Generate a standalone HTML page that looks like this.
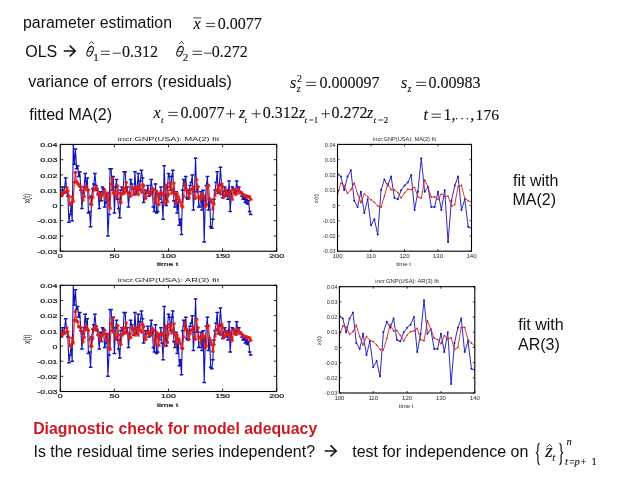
<!DOCTYPE html>
<html><head><meta charset="utf-8"><style>html,body{margin:0;padding:0;background:#fff;} svg{display:block;will-change:transform}</style></head>
<body><svg width="638" height="479" viewBox="0 0 638 479">
<rect width="638" height="479" fill="#fff"/>
<text x="23" y="27.6" font-family='"Liberation Sans", sans-serif' font-size="16"  font-weight="normal" fill="#111" textLength="149" lengthAdjust="spacingAndGlyphs">parameter estimation</text>
<text x="193.6" y="29" font-family='"Liberation Serif", serif' font-size="16" font-style="italic" font-weight="normal" fill="#111" stroke="#111" stroke-width="0.12">x</text>
<line x1="193.2" y1="17.9" x2="201.3" y2="17.9" stroke="#111" stroke-width="0.8"/>
<path d="M206 23.40 H215 M206 26.60 H215" stroke="#111" stroke-width="0.8"/>
<text x="217.8" y="29" font-family='"Liberation Serif", serif' font-size="16"  font-weight="normal" fill="#111" stroke="#111" stroke-width="0.12">0.0077</text>
<text x="25.2" y="57.2" font-family='"Liberation Sans", sans-serif' font-size="16"  font-weight="normal" fill="#111" >OLS</text>
<path d="M63.8 51 H74.6 M69.7 45.6 L75.2 51 L69.7 56.4" fill="none" stroke="#111" stroke-width="1.6"/>
<ellipse cx="90.10" cy="51.3" rx="2.55" ry="5.2" transform="rotate(24 90.10 51.3)" fill="none" stroke="#111" stroke-width="1.05"/>
<path d="M87.50 51.4 H92.70" stroke="#111" stroke-width="0.8"/>
<path d="M89.30000000000001 44 L91.60000000000001 41.4 L93.9 44" fill="none" stroke="#111" stroke-width="0.75"/>
<text x="93.2" y="60.6" font-family='"Liberation Serif", serif' font-size="11"  font-weight="normal" fill="#111" stroke="#111" stroke-width="0.12">1</text>
<path d="M100.9 51.20 H109.7 M100.9 54.40 H109.7" stroke="#111" stroke-width="0.8"/>
<path d="M112.8 53.2 H121" stroke="#111" stroke-width="0.8"/>
<text x="121.9" y="56.8" font-family='"Liberation Serif", serif' font-size="16"  font-weight="normal" fill="#111" stroke="#111" stroke-width="0.12">0.312</text>
<ellipse cx="180.00" cy="51.3" rx="2.55" ry="5.2" transform="rotate(24 180.00 51.3)" fill="none" stroke="#111" stroke-width="1.05"/>
<path d="M177.40 51.4 H182.60" stroke="#111" stroke-width="0.8"/>
<path d="M179.20000000000002 44 L181.5 41.4 L183.8 44" fill="none" stroke="#111" stroke-width="0.75"/>
<text x="182.8" y="60.6" font-family='"Liberation Serif", serif' font-size="11"  font-weight="normal" fill="#111" stroke="#111" stroke-width="0.12">2</text>
<path d="M192.5 51.20 H202 M192.5 54.40 H202" stroke="#111" stroke-width="0.8"/>
<path d="M204.2 53.2 H211.5" stroke="#111" stroke-width="0.8"/>
<text x="211.8" y="56.8" font-family='"Liberation Serif", serif' font-size="16"  font-weight="normal" fill="#111" stroke="#111" stroke-width="0.12">0.272</text>
<text x="28.3" y="86.6" font-family='"Liberation Sans", sans-serif' font-size="16"  font-weight="normal" fill="#111" >variance of errors (residuals)</text>
<text x="290" y="87.9" font-family='"Liberation Serif", serif' font-size="16" font-style="italic" font-weight="normal" fill="#111" stroke="#111" stroke-width="0.12">s</text>
<text x="297" y="81.8" font-family='"Liberation Serif", serif' font-size="10"  font-weight="normal" fill="#111" stroke="#111" stroke-width="0.12">2</text>
<text x="296.7" y="91.7" font-family='"Liberation Serif", serif' font-size="10" font-style="italic" font-weight="normal" fill="#111" stroke="#111" stroke-width="0.12">z</text>
<path d="M306.2 82.30 H316.2 M306.2 85.50 H316.2" stroke="#111" stroke-width="0.8"/>
<text x="319.6" y="87.9" font-family='"Liberation Serif", serif' font-size="16"  font-weight="normal" fill="#111" stroke="#111" stroke-width="0.12">0.000097</text>
<text x="401" y="87.9" font-family='"Liberation Serif", serif' font-size="16" font-style="italic" font-weight="normal" fill="#111" stroke="#111" stroke-width="0.12">s</text>
<text x="407.6" y="91.7" font-family='"Liberation Serif", serif' font-size="10" font-style="italic" font-weight="normal" fill="#111" stroke="#111" stroke-width="0.12">z</text>
<path d="M416.2 82.30 H426.2 M416.2 85.50 H426.2" stroke="#111" stroke-width="0.8"/>
<text x="428.4" y="87.9" font-family='"Liberation Serif", serif' font-size="16"  font-weight="normal" fill="#111" stroke="#111" stroke-width="0.12">0.00983</text>
<text x="29.3" y="119.6" font-family='"Liberation Sans", sans-serif' font-size="16"  font-weight="normal" fill="#111" >fitted MA(2)</text>
<text x="153.6" y="118.0" font-family='"Liberation Serif", serif' font-size="16" font-style="italic" font-weight="normal" fill="#111" stroke="#111" stroke-width="0.12">x</text>
<text x="161.0" y="122.5" font-family='"Liberation Serif", serif' font-size="8.8" font-style="italic" font-weight="normal" fill="#111" stroke="#111" stroke-width="0.12">t</text>
<path d="M168.3 112.40 H177.7 M168.3 115.60 H177.7" stroke="#111" stroke-width="0.8"/>
<text x="180.6" y="118.0" font-family='"Liberation Serif", serif' font-size="16"  font-weight="normal" fill="#111" stroke="#111" stroke-width="0.12">0.0077</text>
<path d="M226.1 113.8 H234.9 M230.50 109.5 V118.1" stroke="#111" stroke-width="0.8"/>
<text x="239.0" y="118.0" font-family='"Liberation Serif", serif' font-size="16" font-style="italic" font-weight="normal" fill="#111" stroke="#111" stroke-width="0.12">z</text>
<text x="244.6" y="122.5" font-family='"Liberation Serif", serif' font-size="8.8" font-style="italic" font-weight="normal" fill="#111" stroke="#111" stroke-width="0.12">t</text>
<path d="M251.7 113.8 H260.8 M256.25 109.5 V118.1" stroke="#111" stroke-width="0.8"/>
<text x="262.8" y="118.0" font-family='"Liberation Serif", serif' font-size="16"  font-weight="normal" fill="#111" stroke="#111" stroke-width="0.12">0.312</text>
<text x="299.0" y="118.0" font-family='"Liberation Serif", serif' font-size="16" font-style="italic" font-weight="normal" fill="#111" stroke="#111" stroke-width="0.12">z</text>
<text x="304.6" y="122.6" font-family='"Liberation Serif", serif' font-size="8.8" font-style="italic" font-weight="normal" fill="#111" stroke="#111" stroke-width="0.12">t</text>
<path d="M309.1 120 H313.4" stroke="#111" stroke-width="0.8"/>
<text x="313.7" y="122.6" font-family='"Liberation Serif", serif' font-size="8.8"  font-weight="normal" fill="#111" stroke="#111" stroke-width="0.12">1</text>
<path d="M321.3 113.8 H329.9 M325.60 109.5 V118.1" stroke="#111" stroke-width="0.8"/>
<text x="331.6" y="118.0" font-family='"Liberation Serif", serif' font-size="16"  font-weight="normal" fill="#111" stroke="#111" stroke-width="0.12">0.272</text>
<text x="367.0" y="118.0" font-family='"Liberation Serif", serif' font-size="16" font-style="italic" font-weight="normal" fill="#111" stroke="#111" stroke-width="0.12">z</text>
<text x="373.6" y="122.6" font-family='"Liberation Serif", serif' font-size="8.8" font-style="italic" font-weight="normal" fill="#111" stroke="#111" stroke-width="0.12">t</text>
<path d="M378.4 120 H383.2" stroke="#111" stroke-width="0.8"/>
<text x="383.8" y="122.6" font-family='"Liberation Serif", serif' font-size="8.8"  font-weight="normal" fill="#111" stroke="#111" stroke-width="0.12">2</text>
<text x="423.4" y="119.7" font-family='"Liberation Serif", serif' font-size="16" font-style="italic" font-weight="normal" fill="#111" stroke="#111" stroke-width="0.12">t</text>
<path d="M431.5 114.10 H441 M431.5 117.30 H441" stroke="#111" stroke-width="0.8"/>
<text x="443.4" y="119.7" font-family='"Liberation Serif", serif' font-size="16"  font-weight="normal" fill="#111" stroke="#111" stroke-width="0.12">1,</text>
<circle cx="456.6" cy="118.7" r="0.75" fill="#111"/>
<circle cx="462.2" cy="118.7" r="0.75" fill="#111"/>
<circle cx="467.4" cy="118.7" r="0.75" fill="#111"/>
<text x="470.2" y="119.7" font-family='"Liberation Serif", serif' font-size="16"  font-weight="normal" fill="#111" stroke="#111" stroke-width="0.12">,</text>
<text x="475.6" y="119.7" font-family='"Liberation Serif", serif' font-size="15.6"  font-weight="normal" fill="#111" stroke="#111" stroke-width="0.12">176</text>
<clipPath id="c1"><rect x="60.3" y="144.4" width="216.39999999999998" height="106.79999999999998"/></clipPath>
<g clip-path="url(#c1)">
<polyline points="61.38,196.27 62.46,187.12 63.55,193.22 64.63,187.12 65.71,177.97 66.79,191.70 67.87,196.27 68.96,222.21 70.04,214.58 71.12,205.43 72.20,220.69 73.28,144.40 74.37,164.23 75.45,148.98 76.53,168.81 77.61,165.76 78.69,176.44 79.78,171.86 80.86,190.17 81.94,208.48 83.02,193.22 84.10,187.12 85.19,173.39 86.27,187.12 87.35,177.97 88.43,213.06 89.51,211.53 90.60,226.79 91.68,196.27 92.76,188.65 93.84,184.07 94.92,173.39 96.01,185.59 97.09,190.17 98.17,194.75 99.25,208.48 100.33,191.70 101.42,200.85 102.50,187.12 103.58,188.65 104.66,206.95 105.74,202.38 106.83,193.22 107.91,235.94 108.99,214.58 110.07,168.81 111.15,168.81 112.24,190.17 113.32,176.44 114.40,213.06 115.48,187.12 116.56,179.49 117.65,199.33 118.73,208.48 119.81,217.63 120.89,190.17 121.97,187.12 123.06,193.22 124.14,171.86 125.22,171.86 126.30,191.70 127.38,187.12 128.47,206.95 129.55,193.22 130.63,179.49 131.71,184.07 132.79,188.65 133.88,194.75 134.96,171.86 136.04,193.22 137.12,187.12 138.20,173.39 139.29,190.17 140.37,181.02 141.45,170.34 142.53,177.97 143.61,202.38 144.70,197.80 145.78,190.17 146.86,193.22 147.94,185.59 149.02,196.27 150.11,191.70 151.19,179.49 152.27,188.65 153.35,206.95 154.43,211.53 155.52,184.07 156.60,213.06 157.68,211.53 158.76,193.22 159.84,199.33 160.93,187.12 162.01,202.38 163.09,219.16 164.17,165.76 165.25,194.75 166.34,205.43 167.42,187.12 168.50,173.39 169.58,176.44 170.66,190.17 171.75,176.44 172.83,170.34 173.91,200.85 174.99,206.95 176.07,191.70 177.16,213.06 178.24,199.33 179.32,225.26 180.40,219.16 181.48,234.42 182.57,190.17 183.65,179.49 184.73,185.59 185.81,176.44 186.89,197.80 187.98,199.33 189.06,190.17 190.14,185.59 191.22,182.54 192.30,174.91 193.39,210.01 194.47,191.70 195.55,158.13 196.63,191.70 197.71,187.12 198.80,206.95 199.88,206.95 200.96,191.70 202.04,210.01 203.12,190.17 204.21,242.05 205.29,200.85 206.37,185.59 207.45,176.44 208.53,210.01 209.62,199.33 210.70,226.79 211.78,228.31 212.86,219.16 213.94,199.33 215.03,190.17 216.11,182.54 217.19,171.86 218.27,193.22 219.35,185.59 220.44,167.29 221.52,184.07 222.60,197.80 223.68,191.70 224.76,187.12 225.85,196.27 226.93,190.17 228.01,199.33 229.09,181.02 230.17,211.53 231.26,196.27 232.34,187.12 233.42,188.65 234.50,193.22 235.58,191.70 236.67,181.02 237.75,190.17 238.83,187.12 239.91,191.70 240.99,193.22 242.08,196.27 243.16,199.33 244.24,197.80 245.32,202.38 246.40,199.33 247.49,203.90 248.57,200.85 249.65,211.53 250.73,214.58" fill="none" stroke="#1414b4" stroke-width="1.1" stroke-linejoin="round"/>
<path d="M59.58 196.27 h3.6 M60.66 187.12 h3.6 M61.75 193.22 h3.6 M62.83 187.12 h3.6 M63.91 177.97 h3.6 M64.99 191.70 h3.6 M66.07 196.27 h3.6 M67.16 222.21 h3.6 M68.24 214.58 h3.6 M69.32 205.43 h3.6 M70.40 220.69 h3.6 M71.48 144.40 h3.6 M72.57 164.23 h3.6 M73.65 148.98 h3.6 M74.73 168.81 h3.6 M75.81 165.76 h3.6 M76.89 176.44 h3.6 M77.98 171.86 h3.6 M79.06 190.17 h3.6 M80.14 208.48 h3.6 M81.22 193.22 h3.6 M82.30 187.12 h3.6 M83.39 173.39 h3.6 M84.47 187.12 h3.6 M85.55 177.97 h3.6 M86.63 213.06 h3.6 M87.71 211.53 h3.6 M88.80 226.79 h3.6 M89.88 196.27 h3.6 M90.96 188.65 h3.6 M92.04 184.07 h3.6 M93.12 173.39 h3.6 M94.21 185.59 h3.6 M95.29 190.17 h3.6 M96.37 194.75 h3.6 M97.45 208.48 h3.6 M98.53 191.70 h3.6 M99.62 200.85 h3.6 M100.70 187.12 h3.6 M101.78 188.65 h3.6 M102.86 206.95 h3.6 M103.94 202.38 h3.6 M105.03 193.22 h3.6 M106.11 235.94 h3.6 M107.19 214.58 h3.6 M108.27 168.81 h3.6 M109.35 168.81 h3.6 M110.44 190.17 h3.6 M111.52 176.44 h3.6 M112.60 213.06 h3.6 M113.68 187.12 h3.6 M114.76 179.49 h3.6 M115.85 199.33 h3.6 M116.93 208.48 h3.6 M118.01 217.63 h3.6 M119.09 190.17 h3.6 M120.17 187.12 h3.6 M121.26 193.22 h3.6 M122.34 171.86 h3.6 M123.42 171.86 h3.6 M124.50 191.70 h3.6 M125.58 187.12 h3.6 M126.67 206.95 h3.6 M127.75 193.22 h3.6 M128.83 179.49 h3.6 M129.91 184.07 h3.6 M130.99 188.65 h3.6 M132.08 194.75 h3.6 M133.16 171.86 h3.6 M134.24 193.22 h3.6 M135.32 187.12 h3.6 M136.40 173.39 h3.6 M137.49 190.17 h3.6 M138.57 181.02 h3.6 M139.65 170.34 h3.6 M140.73 177.97 h3.6 M141.81 202.38 h3.6 M142.90 197.80 h3.6 M143.98 190.17 h3.6 M145.06 193.22 h3.6 M146.14 185.59 h3.6 M147.22 196.27 h3.6 M148.31 191.70 h3.6 M149.39 179.49 h3.6 M150.47 188.65 h3.6 M151.55 206.95 h3.6 M152.63 211.53 h3.6 M153.72 184.07 h3.6 M154.80 213.06 h3.6 M155.88 211.53 h3.6 M156.96 193.22 h3.6 M158.04 199.33 h3.6 M159.13 187.12 h3.6 M160.21 202.38 h3.6 M161.29 219.16 h3.6 M162.37 165.76 h3.6 M163.45 194.75 h3.6 M164.54 205.43 h3.6 M165.62 187.12 h3.6 M166.70 173.39 h3.6 M167.78 176.44 h3.6 M168.86 190.17 h3.6 M169.95 176.44 h3.6 M171.03 170.34 h3.6 M172.11 200.85 h3.6 M173.19 206.95 h3.6 M174.27 191.70 h3.6 M175.36 213.06 h3.6 M176.44 199.33 h3.6 M177.52 225.26 h3.6 M178.60 219.16 h3.6 M179.68 234.42 h3.6 M180.77 190.17 h3.6 M181.85 179.49 h3.6 M182.93 185.59 h3.6 M184.01 176.44 h3.6 M185.09 197.80 h3.6 M186.18 199.33 h3.6 M187.26 190.17 h3.6 M188.34 185.59 h3.6 M189.42 182.54 h3.6 M190.50 174.91 h3.6 M191.59 210.01 h3.6 M192.67 191.70 h3.6 M193.75 158.13 h3.6 M194.83 191.70 h3.6 M195.91 187.12 h3.6 M197.00 206.95 h3.6 M198.08 206.95 h3.6 M199.16 191.70 h3.6 M200.24 210.01 h3.6 M201.32 190.17 h3.6 M202.41 242.05 h3.6 M203.49 200.85 h3.6 M204.57 185.59 h3.6 M205.65 176.44 h3.6 M206.73 210.01 h3.6 M207.82 199.33 h3.6 M208.90 226.79 h3.6 M209.98 228.31 h3.6 M211.06 219.16 h3.6 M212.14 199.33 h3.6 M213.23 190.17 h3.6 M214.31 182.54 h3.6 M215.39 171.86 h3.6 M216.47 193.22 h3.6 M217.55 185.59 h3.6 M218.64 167.29 h3.6 M219.72 184.07 h3.6 M220.80 197.80 h3.6 M221.88 191.70 h3.6 M222.96 187.12 h3.6 M224.05 196.27 h3.6 M225.13 190.17 h3.6 M226.21 199.33 h3.6 M227.29 181.02 h3.6 M228.37 211.53 h3.6 M229.46 196.27 h3.6 M230.54 187.12 h3.6 M231.62 188.65 h3.6 M232.70 193.22 h3.6 M233.78 191.70 h3.6 M234.87 181.02 h3.6 M235.95 190.17 h3.6 M237.03 187.12 h3.6 M238.11 191.70 h3.6 M239.19 193.22 h3.6 M240.28 196.27 h3.6 M241.36 199.33 h3.6 M242.44 197.80 h3.6 M243.52 202.38 h3.6 M244.60 199.33 h3.6 M245.69 203.90 h3.6 M246.77 200.85 h3.6 M247.85 211.53 h3.6 M248.93 214.58 h3.6" stroke="#1414b4" stroke-width="1.5"/>
<polyline points="61.38,193.68 62.46,194.49 63.55,192.09 64.63,192.03 65.71,192.46 66.79,187.82 67.87,190.95 68.96,196.40 70.04,203.18 71.12,204.26 72.20,197.15 73.28,201.34 74.37,182.32 75.45,172.55 76.53,181.41 77.61,183.34 78.69,184.77 79.78,186.30 80.86,186.91 81.94,190.77 83.02,200.09 84.10,196.35 85.19,188.93 86.27,186.32 87.35,189.70 88.43,190.24 89.51,197.61 90.60,204.23 91.68,204.51 92.76,197.25 93.84,188.76 94.92,189.88 96.01,187.26 97.09,188.68 98.17,193.69 99.25,194.42 100.33,198.36 101.42,195.43 102.50,193.56 103.58,193.15 104.66,190.52 105.74,197.58 106.83,199.65 107.91,192.98 108.99,205.34 110.07,208.25 111.15,183.89 112.24,178.25 113.32,193.30 114.40,191.66 115.48,195.77 116.56,196.80 117.65,185.93 118.73,193.15 119.81,202.11 120.89,202.69 121.97,194.00 123.06,188.13 124.14,193.40 125.22,188.35 126.30,182.68 127.38,192.01 128.47,194.61 129.55,196.20 130.63,196.11 131.71,187.69 132.79,188.03 133.88,192.89 134.96,194.43 136.04,187.15 137.12,189.44 138.20,194.61 139.29,186.43 140.37,189.08 141.45,192.18 142.53,184.67 143.61,185.65 144.70,197.08 145.78,198.46 146.86,191.29 147.94,192.03 149.02,192.20 150.11,193.20 151.19,194.32 152.27,188.64 153.35,189.65 154.43,199.08 155.52,202.27 156.60,191.39 157.68,195.49 158.76,204.58 159.84,194.50 160.93,192.10 162.01,193.44 163.09,195.12 164.17,203.61 165.25,188.41 166.34,185.36 167.42,201.67 168.50,194.60 169.58,183.11 170.66,185.83 171.75,193.22 172.83,189.63 173.91,183.10 174.99,193.97 176.07,202.56 177.16,193.82 178.24,196.73 179.32,199.72 180.40,202.36 181.48,205.87 182.57,207.16 183.65,196.15 184.73,183.86 185.81,189.69 186.89,190.02 187.98,192.50 189.06,197.93 190.14,193.12 191.22,189.22 192.30,189.55 193.39,187.30 194.47,196.78 195.55,198.27 196.63,179.77 197.71,186.48 198.80,197.12 199.88,196.92 200.96,199.49 202.04,193.98 203.12,196.56 204.21,196.05 205.29,206.29 206.37,204.49 207.45,186.30 208.53,185.46 209.62,198.66 210.70,200.57 211.78,202.04 212.86,209.01 213.94,203.99 215.03,194.99 216.11,190.91 217.19,189.76 218.27,185.82 219.35,191.12 220.44,193.97 221.52,183.85 222.60,186.49 223.68,197.27 224.76,195.02 225.85,189.70 226.93,193.58 228.01,194.40 229.09,194.29 230.17,190.88 231.26,196.51 232.34,199.22 233.42,189.84 234.50,190.02 235.58,194.36 236.67,193.72 237.75,188.99 238.83,190.59 239.91,192.92 240.99,192.36 242.08,193.62 243.16,194.74 244.24,195.83 245.32,195.54 246.40,196.35 247.49,196.47 248.57,196.81 249.65,196.96 250.73,199.33" fill="none" stroke="#e01c1c" stroke-width="1.1" stroke-linejoin="round"/>
<path d="M59.48 193.68 h3.8 M61.38 191.88 v3.6 M60.08 192.38 l2.6 2.6 M60.08 194.98 l2.6 -2.6 M60.56 194.49 h3.8 M62.46 192.69 v3.6 M61.16 193.19 l2.6 2.6 M61.16 195.79 l2.6 -2.6 M61.65 192.09 h3.8 M63.55 190.29 v3.6 M62.25 190.79 l2.6 2.6 M62.25 193.39 l2.6 -2.6 M62.73 192.03 h3.8 M64.63 190.23 v3.6 M63.33 190.73 l2.6 2.6 M63.33 193.33 l2.6 -2.6 M63.81 192.46 h3.8 M65.71 190.66 v3.6 M64.41 191.16 l2.6 2.6 M64.41 193.76 l2.6 -2.6 M64.89 187.82 h3.8 M66.79 186.02 v3.6 M65.49 186.52 l2.6 2.6 M65.49 189.12 l2.6 -2.6 M65.97 190.95 h3.8 M67.87 189.15 v3.6 M66.57 189.65 l2.6 2.6 M66.57 192.25 l2.6 -2.6 M67.06 196.40 h3.8 M68.96 194.60 v3.6 M67.66 195.10 l2.6 2.6 M67.66 197.70 l2.6 -2.6 M68.14 203.18 h3.8 M70.04 201.38 v3.6 M68.74 201.88 l2.6 2.6 M68.74 204.48 l2.6 -2.6 M69.22 204.26 h3.8 M71.12 202.46 v3.6 M69.82 202.96 l2.6 2.6 M69.82 205.56 l2.6 -2.6 M70.30 197.15 h3.8 M72.20 195.35 v3.6 M70.90 195.85 l2.6 2.6 M70.90 198.45 l2.6 -2.6 M71.38 201.34 h3.8 M73.28 199.54 v3.6 M71.98 200.04 l2.6 2.6 M71.98 202.64 l2.6 -2.6 M72.47 182.32 h3.8 M74.37 180.52 v3.6 M73.07 181.02 l2.6 2.6 M73.07 183.62 l2.6 -2.6 M73.55 172.55 h3.8 M75.45 170.75 v3.6 M74.15 171.25 l2.6 2.6 M74.15 173.85 l2.6 -2.6 M74.63 181.41 h3.8 M76.53 179.61 v3.6 M75.23 180.11 l2.6 2.6 M75.23 182.71 l2.6 -2.6 M75.71 183.34 h3.8 M77.61 181.54 v3.6 M76.31 182.04 l2.6 2.6 M76.31 184.64 l2.6 -2.6 M76.79 184.77 h3.8 M78.69 182.97 v3.6 M77.39 183.47 l2.6 2.6 M77.39 186.07 l2.6 -2.6 M77.88 186.30 h3.8 M79.78 184.50 v3.6 M78.48 185.00 l2.6 2.6 M78.48 187.60 l2.6 -2.6 M78.96 186.91 h3.8 M80.86 185.11 v3.6 M79.56 185.61 l2.6 2.6 M79.56 188.21 l2.6 -2.6 M80.04 190.77 h3.8 M81.94 188.97 v3.6 M80.64 189.47 l2.6 2.6 M80.64 192.07 l2.6 -2.6 M81.12 200.09 h3.8 M83.02 198.29 v3.6 M81.72 198.79 l2.6 2.6 M81.72 201.39 l2.6 -2.6 M82.20 196.35 h3.8 M84.10 194.55 v3.6 M82.80 195.05 l2.6 2.6 M82.80 197.65 l2.6 -2.6 M83.29 188.93 h3.8 M85.19 187.13 v3.6 M83.89 187.63 l2.6 2.6 M83.89 190.23 l2.6 -2.6 M84.37 186.32 h3.8 M86.27 184.52 v3.6 M84.97 185.02 l2.6 2.6 M84.97 187.62 l2.6 -2.6 M85.45 189.70 h3.8 M87.35 187.90 v3.6 M86.05 188.40 l2.6 2.6 M86.05 191.00 l2.6 -2.6 M86.53 190.24 h3.8 M88.43 188.44 v3.6 M87.13 188.94 l2.6 2.6 M87.13 191.54 l2.6 -2.6 M87.61 197.61 h3.8 M89.51 195.81 v3.6 M88.21 196.31 l2.6 2.6 M88.21 198.91 l2.6 -2.6 M88.70 204.23 h3.8 M90.60 202.43 v3.6 M89.30 202.93 l2.6 2.6 M89.30 205.53 l2.6 -2.6 M89.78 204.51 h3.8 M91.68 202.71 v3.6 M90.38 203.21 l2.6 2.6 M90.38 205.81 l2.6 -2.6 M90.86 197.25 h3.8 M92.76 195.45 v3.6 M91.46 195.95 l2.6 2.6 M91.46 198.55 l2.6 -2.6 M91.94 188.76 h3.8 M93.84 186.96 v3.6 M92.54 187.46 l2.6 2.6 M92.54 190.06 l2.6 -2.6 M93.02 189.88 h3.8 M94.92 188.08 v3.6 M93.62 188.58 l2.6 2.6 M93.62 191.18 l2.6 -2.6 M94.11 187.26 h3.8 M96.01 185.46 v3.6 M94.71 185.96 l2.6 2.6 M94.71 188.56 l2.6 -2.6 M95.19 188.68 h3.8 M97.09 186.88 v3.6 M95.79 187.38 l2.6 2.6 M95.79 189.98 l2.6 -2.6 M96.27 193.69 h3.8 M98.17 191.89 v3.6 M96.87 192.39 l2.6 2.6 M96.87 194.99 l2.6 -2.6 M97.35 194.42 h3.8 M99.25 192.62 v3.6 M97.95 193.12 l2.6 2.6 M97.95 195.72 l2.6 -2.6 M98.43 198.36 h3.8 M100.33 196.56 v3.6 M99.03 197.06 l2.6 2.6 M99.03 199.66 l2.6 -2.6 M99.52 195.43 h3.8 M101.42 193.63 v3.6 M100.12 194.13 l2.6 2.6 M100.12 196.73 l2.6 -2.6 M100.60 193.56 h3.8 M102.50 191.76 v3.6 M101.20 192.26 l2.6 2.6 M101.20 194.86 l2.6 -2.6 M101.68 193.15 h3.8 M103.58 191.35 v3.6 M102.28 191.85 l2.6 2.6 M102.28 194.45 l2.6 -2.6 M102.76 190.52 h3.8 M104.66 188.72 v3.6 M103.36 189.22 l2.6 2.6 M103.36 191.82 l2.6 -2.6 M103.84 197.58 h3.8 M105.74 195.78 v3.6 M104.44 196.28 l2.6 2.6 M104.44 198.88 l2.6 -2.6 M104.93 199.65 h3.8 M106.83 197.85 v3.6 M105.53 198.35 l2.6 2.6 M105.53 200.95 l2.6 -2.6 M106.01 192.98 h3.8 M107.91 191.18 v3.6 M106.61 191.68 l2.6 2.6 M106.61 194.28 l2.6 -2.6 M107.09 205.34 h3.8 M108.99 203.54 v3.6 M107.69 204.04 l2.6 2.6 M107.69 206.64 l2.6 -2.6 M108.17 208.25 h3.8 M110.07 206.45 v3.6 M108.77 206.95 l2.6 2.6 M108.77 209.55 l2.6 -2.6 M109.25 183.89 h3.8 M111.15 182.09 v3.6 M109.85 182.59 l2.6 2.6 M109.85 185.19 l2.6 -2.6 M110.34 178.25 h3.8 M112.24 176.45 v3.6 M110.94 176.95 l2.6 2.6 M110.94 179.55 l2.6 -2.6 M111.42 193.30 h3.8 M113.32 191.50 v3.6 M112.02 192.00 l2.6 2.6 M112.02 194.60 l2.6 -2.6 M112.50 191.66 h3.8 M114.40 189.86 v3.6 M113.10 190.36 l2.6 2.6 M113.10 192.96 l2.6 -2.6 M113.58 195.77 h3.8 M115.48 193.97 v3.6 M114.18 194.47 l2.6 2.6 M114.18 197.07 l2.6 -2.6 M114.66 196.80 h3.8 M116.56 195.00 v3.6 M115.26 195.50 l2.6 2.6 M115.26 198.10 l2.6 -2.6 M115.75 185.93 h3.8 M117.65 184.13 v3.6 M116.35 184.63 l2.6 2.6 M116.35 187.23 l2.6 -2.6 M116.83 193.15 h3.8 M118.73 191.35 v3.6 M117.43 191.85 l2.6 2.6 M117.43 194.45 l2.6 -2.6 M117.91 202.11 h3.8 M119.81 200.31 v3.6 M118.51 200.81 l2.6 2.6 M118.51 203.41 l2.6 -2.6 M118.99 202.69 h3.8 M120.89 200.89 v3.6 M119.59 201.39 l2.6 2.6 M119.59 203.99 l2.6 -2.6 M120.07 194.00 h3.8 M121.97 192.20 v3.6 M120.67 192.70 l2.6 2.6 M120.67 195.30 l2.6 -2.6 M121.16 188.13 h3.8 M123.06 186.33 v3.6 M121.76 186.83 l2.6 2.6 M121.76 189.43 l2.6 -2.6 M122.24 193.40 h3.8 M124.14 191.60 v3.6 M122.84 192.10 l2.6 2.6 M122.84 194.70 l2.6 -2.6 M123.32 188.35 h3.8 M125.22 186.55 v3.6 M123.92 187.05 l2.6 2.6 M123.92 189.65 l2.6 -2.6 M124.40 182.68 h3.8 M126.30 180.88 v3.6 M125.00 181.38 l2.6 2.6 M125.00 183.98 l2.6 -2.6 M125.48 192.01 h3.8 M127.38 190.21 v3.6 M126.08 190.71 l2.6 2.6 M126.08 193.31 l2.6 -2.6 M126.57 194.61 h3.8 M128.47 192.81 v3.6 M127.17 193.31 l2.6 2.6 M127.17 195.91 l2.6 -2.6 M127.65 196.20 h3.8 M129.55 194.40 v3.6 M128.25 194.90 l2.6 2.6 M128.25 197.50 l2.6 -2.6 M128.73 196.11 h3.8 M130.63 194.31 v3.6 M129.33 194.81 l2.6 2.6 M129.33 197.41 l2.6 -2.6 M129.81 187.69 h3.8 M131.71 185.89 v3.6 M130.41 186.39 l2.6 2.6 M130.41 188.99 l2.6 -2.6 M130.89 188.03 h3.8 M132.79 186.23 v3.6 M131.49 186.73 l2.6 2.6 M131.49 189.33 l2.6 -2.6 M131.98 192.89 h3.8 M133.88 191.09 v3.6 M132.58 191.59 l2.6 2.6 M132.58 194.19 l2.6 -2.6 M133.06 194.43 h3.8 M134.96 192.63 v3.6 M133.66 193.13 l2.6 2.6 M133.66 195.73 l2.6 -2.6 M134.14 187.15 h3.8 M136.04 185.35 v3.6 M134.74 185.85 l2.6 2.6 M134.74 188.45 l2.6 -2.6 M135.22 189.44 h3.8 M137.12 187.64 v3.6 M135.82 188.14 l2.6 2.6 M135.82 190.74 l2.6 -2.6 M136.30 194.61 h3.8 M138.20 192.81 v3.6 M136.90 193.31 l2.6 2.6 M136.90 195.91 l2.6 -2.6 M137.39 186.43 h3.8 M139.29 184.63 v3.6 M137.99 185.13 l2.6 2.6 M137.99 187.73 l2.6 -2.6 M138.47 189.08 h3.8 M140.37 187.28 v3.6 M139.07 187.78 l2.6 2.6 M139.07 190.38 l2.6 -2.6 M139.55 192.18 h3.8 M141.45 190.38 v3.6 M140.15 190.88 l2.6 2.6 M140.15 193.48 l2.6 -2.6 M140.63 184.67 h3.8 M142.53 182.87 v3.6 M141.23 183.37 l2.6 2.6 M141.23 185.97 l2.6 -2.6 M141.71 185.65 h3.8 M143.61 183.85 v3.6 M142.31 184.35 l2.6 2.6 M142.31 186.95 l2.6 -2.6 M142.80 197.08 h3.8 M144.70 195.28 v3.6 M143.40 195.78 l2.6 2.6 M143.40 198.38 l2.6 -2.6 M143.88 198.46 h3.8 M145.78 196.66 v3.6 M144.48 197.16 l2.6 2.6 M144.48 199.76 l2.6 -2.6 M144.96 191.29 h3.8 M146.86 189.49 v3.6 M145.56 189.99 l2.6 2.6 M145.56 192.59 l2.6 -2.6 M146.04 192.03 h3.8 M147.94 190.23 v3.6 M146.64 190.73 l2.6 2.6 M146.64 193.33 l2.6 -2.6 M147.12 192.20 h3.8 M149.02 190.40 v3.6 M147.72 190.90 l2.6 2.6 M147.72 193.50 l2.6 -2.6 M148.21 193.20 h3.8 M150.11 191.40 v3.6 M148.81 191.90 l2.6 2.6 M148.81 194.50 l2.6 -2.6 M149.29 194.32 h3.8 M151.19 192.52 v3.6 M149.89 193.02 l2.6 2.6 M149.89 195.62 l2.6 -2.6 M150.37 188.64 h3.8 M152.27 186.84 v3.6 M150.97 187.34 l2.6 2.6 M150.97 189.94 l2.6 -2.6 M151.45 189.65 h3.8 M153.35 187.85 v3.6 M152.05 188.35 l2.6 2.6 M152.05 190.95 l2.6 -2.6 M152.53 199.08 h3.8 M154.43 197.28 v3.6 M153.13 197.78 l2.6 2.6 M153.13 200.38 l2.6 -2.6 M153.62 202.27 h3.8 M155.52 200.47 v3.6 M154.22 200.97 l2.6 2.6 M154.22 203.57 l2.6 -2.6 M154.70 191.39 h3.8 M156.60 189.59 v3.6 M155.30 190.09 l2.6 2.6 M155.30 192.69 l2.6 -2.6 M155.78 195.49 h3.8 M157.68 193.69 v3.6 M156.38 194.19 l2.6 2.6 M156.38 196.79 l2.6 -2.6 M156.86 204.58 h3.8 M158.76 202.78 v3.6 M157.46 203.28 l2.6 2.6 M157.46 205.88 l2.6 -2.6 M157.94 194.50 h3.8 M159.84 192.70 v3.6 M158.54 193.20 l2.6 2.6 M158.54 195.80 l2.6 -2.6 M159.03 192.10 h3.8 M160.93 190.30 v3.6 M159.63 190.80 l2.6 2.6 M159.63 193.40 l2.6 -2.6 M160.11 193.44 h3.8 M162.01 191.64 v3.6 M160.71 192.14 l2.6 2.6 M160.71 194.74 l2.6 -2.6 M161.19 195.12 h3.8 M163.09 193.32 v3.6 M161.79 193.82 l2.6 2.6 M161.79 196.42 l2.6 -2.6 M162.27 203.61 h3.8 M164.17 201.81 v3.6 M162.87 202.31 l2.6 2.6 M162.87 204.91 l2.6 -2.6 M163.35 188.41 h3.8 M165.25 186.61 v3.6 M163.95 187.11 l2.6 2.6 M163.95 189.71 l2.6 -2.6 M164.44 185.36 h3.8 M166.34 183.56 v3.6 M165.04 184.06 l2.6 2.6 M165.04 186.66 l2.6 -2.6 M165.52 201.67 h3.8 M167.42 199.87 v3.6 M166.12 200.37 l2.6 2.6 M166.12 202.97 l2.6 -2.6 M166.60 194.60 h3.8 M168.50 192.80 v3.6 M167.20 193.30 l2.6 2.6 M167.20 195.90 l2.6 -2.6 M167.68 183.11 h3.8 M169.58 181.31 v3.6 M168.28 181.81 l2.6 2.6 M168.28 184.41 l2.6 -2.6 M168.76 185.83 h3.8 M170.66 184.03 v3.6 M169.36 184.53 l2.6 2.6 M169.36 187.13 l2.6 -2.6 M169.85 193.22 h3.8 M171.75 191.42 v3.6 M170.45 191.92 l2.6 2.6 M170.45 194.52 l2.6 -2.6 M170.93 189.63 h3.8 M172.83 187.83 v3.6 M171.53 188.33 l2.6 2.6 M171.53 190.93 l2.6 -2.6 M172.01 183.10 h3.8 M173.91 181.30 v3.6 M172.61 181.80 l2.6 2.6 M172.61 184.40 l2.6 -2.6 M173.09 193.97 h3.8 M174.99 192.17 v3.6 M173.69 192.67 l2.6 2.6 M173.69 195.27 l2.6 -2.6 M174.17 202.56 h3.8 M176.07 200.76 v3.6 M174.77 201.26 l2.6 2.6 M174.77 203.86 l2.6 -2.6 M175.26 193.82 h3.8 M177.16 192.02 v3.6 M175.86 192.52 l2.6 2.6 M175.86 195.12 l2.6 -2.6 M176.34 196.73 h3.8 M178.24 194.93 v3.6 M176.94 195.43 l2.6 2.6 M176.94 198.03 l2.6 -2.6 M177.42 199.72 h3.8 M179.32 197.92 v3.6 M178.02 198.42 l2.6 2.6 M178.02 201.02 l2.6 -2.6 M178.50 202.36 h3.8 M180.40 200.56 v3.6 M179.10 201.06 l2.6 2.6 M179.10 203.66 l2.6 -2.6 M179.58 205.87 h3.8 M181.48 204.07 v3.6 M180.18 204.57 l2.6 2.6 M180.18 207.17 l2.6 -2.6 M180.67 207.16 h3.8 M182.57 205.36 v3.6 M181.27 205.86 l2.6 2.6 M181.27 208.46 l2.6 -2.6 M181.75 196.15 h3.8 M183.65 194.35 v3.6 M182.35 194.85 l2.6 2.6 M182.35 197.45 l2.6 -2.6 M182.83 183.86 h3.8 M184.73 182.06 v3.6 M183.43 182.56 l2.6 2.6 M183.43 185.16 l2.6 -2.6 M183.91 189.69 h3.8 M185.81 187.89 v3.6 M184.51 188.39 l2.6 2.6 M184.51 190.99 l2.6 -2.6 M184.99 190.02 h3.8 M186.89 188.22 v3.6 M185.59 188.72 l2.6 2.6 M185.59 191.32 l2.6 -2.6 M186.08 192.50 h3.8 M187.98 190.70 v3.6 M186.68 191.20 l2.6 2.6 M186.68 193.80 l2.6 -2.6 M187.16 197.93 h3.8 M189.06 196.13 v3.6 M187.76 196.63 l2.6 2.6 M187.76 199.23 l2.6 -2.6 M188.24 193.12 h3.8 M190.14 191.32 v3.6 M188.84 191.82 l2.6 2.6 M188.84 194.42 l2.6 -2.6 M189.32 189.22 h3.8 M191.22 187.42 v3.6 M189.92 187.92 l2.6 2.6 M189.92 190.52 l2.6 -2.6 M190.40 189.55 h3.8 M192.30 187.75 v3.6 M191.00 188.25 l2.6 2.6 M191.00 190.85 l2.6 -2.6 M191.49 187.30 h3.8 M193.39 185.50 v3.6 M192.09 186.00 l2.6 2.6 M192.09 188.60 l2.6 -2.6 M192.57 196.78 h3.8 M194.47 194.98 v3.6 M193.17 195.48 l2.6 2.6 M193.17 198.08 l2.6 -2.6 M193.65 198.27 h3.8 M195.55 196.47 v3.6 M194.25 196.97 l2.6 2.6 M194.25 199.57 l2.6 -2.6 M194.73 179.77 h3.8 M196.63 177.97 v3.6 M195.33 178.47 l2.6 2.6 M195.33 181.07 l2.6 -2.6 M195.81 186.48 h3.8 M197.71 184.68 v3.6 M196.41 185.18 l2.6 2.6 M196.41 187.78 l2.6 -2.6 M196.90 197.12 h3.8 M198.80 195.32 v3.6 M197.50 195.82 l2.6 2.6 M197.50 198.42 l2.6 -2.6 M197.98 196.92 h3.8 M199.88 195.12 v3.6 M198.58 195.62 l2.6 2.6 M198.58 198.22 l2.6 -2.6 M199.06 199.49 h3.8 M200.96 197.69 v3.6 M199.66 198.19 l2.6 2.6 M199.66 200.79 l2.6 -2.6 M200.14 193.98 h3.8 M202.04 192.18 v3.6 M200.74 192.68 l2.6 2.6 M200.74 195.28 l2.6 -2.6 M201.22 196.56 h3.8 M203.12 194.76 v3.6 M201.82 195.26 l2.6 2.6 M201.82 197.86 l2.6 -2.6 M202.31 196.05 h3.8 M204.21 194.25 v3.6 M202.91 194.75 l2.6 2.6 M202.91 197.35 l2.6 -2.6 M203.39 206.29 h3.8 M205.29 204.49 v3.6 M203.99 204.99 l2.6 2.6 M203.99 207.59 l2.6 -2.6 M204.47 204.49 h3.8 M206.37 202.69 v3.6 M205.07 203.19 l2.6 2.6 M205.07 205.79 l2.6 -2.6 M205.55 186.30 h3.8 M207.45 184.50 v3.6 M206.15 185.00 l2.6 2.6 M206.15 187.60 l2.6 -2.6 M206.63 185.46 h3.8 M208.53 183.66 v3.6 M207.23 184.16 l2.6 2.6 M207.23 186.76 l2.6 -2.6 M207.72 198.66 h3.8 M209.62 196.86 v3.6 M208.32 197.36 l2.6 2.6 M208.32 199.96 l2.6 -2.6 M208.80 200.57 h3.8 M210.70 198.77 v3.6 M209.40 199.27 l2.6 2.6 M209.40 201.87 l2.6 -2.6 M209.88 202.04 h3.8 M211.78 200.24 v3.6 M210.48 200.74 l2.6 2.6 M210.48 203.34 l2.6 -2.6 M210.96 209.01 h3.8 M212.86 207.21 v3.6 M211.56 207.71 l2.6 2.6 M211.56 210.31 l2.6 -2.6 M212.04 203.99 h3.8 M213.94 202.19 v3.6 M212.64 202.69 l2.6 2.6 M212.64 205.29 l2.6 -2.6 M213.13 194.99 h3.8 M215.03 193.19 v3.6 M213.73 193.69 l2.6 2.6 M213.73 196.29 l2.6 -2.6 M214.21 190.91 h3.8 M216.11 189.11 v3.6 M214.81 189.61 l2.6 2.6 M214.81 192.21 l2.6 -2.6 M215.29 189.76 h3.8 M217.19 187.96 v3.6 M215.89 188.46 l2.6 2.6 M215.89 191.06 l2.6 -2.6 M216.37 185.82 h3.8 M218.27 184.02 v3.6 M216.97 184.52 l2.6 2.6 M216.97 187.12 l2.6 -2.6 M217.45 191.12 h3.8 M219.35 189.32 v3.6 M218.05 189.82 l2.6 2.6 M218.05 192.42 l2.6 -2.6 M218.54 193.97 h3.8 M220.44 192.17 v3.6 M219.14 192.67 l2.6 2.6 M219.14 195.27 l2.6 -2.6 M219.62 183.85 h3.8 M221.52 182.05 v3.6 M220.22 182.55 l2.6 2.6 M220.22 185.15 l2.6 -2.6 M220.70 186.49 h3.8 M222.60 184.69 v3.6 M221.30 185.19 l2.6 2.6 M221.30 187.79 l2.6 -2.6 M221.78 197.27 h3.8 M223.68 195.47 v3.6 M222.38 195.97 l2.6 2.6 M222.38 198.57 l2.6 -2.6 M222.86 195.02 h3.8 M224.76 193.22 v3.6 M223.46 193.72 l2.6 2.6 M223.46 196.32 l2.6 -2.6 M223.95 189.70 h3.8 M225.85 187.90 v3.6 M224.55 188.40 l2.6 2.6 M224.55 191.00 l2.6 -2.6 M225.03 193.58 h3.8 M226.93 191.78 v3.6 M225.63 192.28 l2.6 2.6 M225.63 194.88 l2.6 -2.6 M226.11 194.40 h3.8 M228.01 192.60 v3.6 M226.71 193.10 l2.6 2.6 M226.71 195.70 l2.6 -2.6 M227.19 194.29 h3.8 M229.09 192.49 v3.6 M227.79 192.99 l2.6 2.6 M227.79 195.59 l2.6 -2.6 M228.27 190.88 h3.8 M230.17 189.08 v3.6 M228.87 189.58 l2.6 2.6 M228.87 192.18 l2.6 -2.6 M229.36 196.51 h3.8 M231.26 194.71 v3.6 M229.96 195.21 l2.6 2.6 M229.96 197.81 l2.6 -2.6 M230.44 199.22 h3.8 M232.34 197.42 v3.6 M231.04 197.92 l2.6 2.6 M231.04 200.52 l2.6 -2.6 M231.52 189.84 h3.8 M233.42 188.04 v3.6 M232.12 188.54 l2.6 2.6 M232.12 191.14 l2.6 -2.6 M232.60 190.02 h3.8 M234.50 188.22 v3.6 M233.20 188.72 l2.6 2.6 M233.20 191.32 l2.6 -2.6 M233.68 194.36 h3.8 M235.58 192.56 v3.6 M234.28 193.06 l2.6 2.6 M234.28 195.66 l2.6 -2.6 M234.77 193.72 h3.8 M236.67 191.92 v3.6 M235.37 192.42 l2.6 2.6 M235.37 195.02 l2.6 -2.6 M235.85 188.99 h3.8 M237.75 187.19 v3.6 M236.45 187.69 l2.6 2.6 M236.45 190.29 l2.6 -2.6 M236.93 190.59 h3.8 M238.83 188.79 v3.6 M237.53 189.29 l2.6 2.6 M237.53 191.89 l2.6 -2.6 M238.01 192.92 h3.8 M239.91 191.12 v3.6 M238.61 191.62 l2.6 2.6 M238.61 194.22 l2.6 -2.6 M239.09 192.36 h3.8 M240.99 190.56 v3.6 M239.69 191.06 l2.6 2.6 M239.69 193.66 l2.6 -2.6 M240.18 193.62 h3.8 M242.08 191.82 v3.6 M240.78 192.32 l2.6 2.6 M240.78 194.92 l2.6 -2.6 M241.26 194.74 h3.8 M243.16 192.94 v3.6 M241.86 193.44 l2.6 2.6 M241.86 196.04 l2.6 -2.6 M242.34 195.83 h3.8 M244.24 194.03 v3.6 M242.94 194.53 l2.6 2.6 M242.94 197.13 l2.6 -2.6 M243.42 195.54 h3.8 M245.32 193.74 v3.6 M244.02 194.24 l2.6 2.6 M244.02 196.84 l2.6 -2.6 M244.50 196.35 h3.8 M246.40 194.55 v3.6 M245.10 195.05 l2.6 2.6 M245.10 197.65 l2.6 -2.6 M245.59 196.47 h3.8 M247.49 194.67 v3.6 M246.19 195.17 l2.6 2.6 M246.19 197.77 l2.6 -2.6 M246.67 196.81 h3.8 M248.57 195.01 v3.6 M247.27 195.51 l2.6 2.6 M247.27 198.11 l2.6 -2.6 M247.75 196.96 h3.8 M249.65 195.16 v3.6 M248.35 195.66 l2.6 2.6 M248.35 198.26 l2.6 -2.6 M248.83 199.33 h3.8 M250.73 197.53 v3.6 M249.43 198.03 l2.6 2.6 M249.43 200.63 l2.6 -2.6" stroke="#e01c1c" stroke-width="1.0"/>
</g>
<rect x="60.3" y="144.4" width="216.39999999999998" height="106.79999999999998" fill="none" stroke="#000" stroke-width="1.1"/>
<path d="M60.30 251.2 v-3 M60.30 144.4 v3 M114.40 251.2 v-3 M114.40 144.4 v3 M168.50 251.2 v-3 M168.50 144.4 v3 M222.60 251.2 v-3 M222.60 144.4 v3 M276.70 251.2 v-3 M276.70 144.4 v3 M60.3 144.40 h3 M276.7 144.40 h-3 M60.3 159.66 h3 M276.7 159.66 h-3 M60.3 174.91 h3 M276.7 174.91 h-3 M60.3 190.17 h3 M276.7 190.17 h-3 M60.3 205.43 h3 M276.7 205.43 h-3 M60.3 220.69 h3 M276.7 220.69 h-3 M60.3 235.94 h3 M276.7 235.94 h-3 M60.3 251.20 h3 M276.7 251.20 h-3" stroke="#000" stroke-width="0.8"/>
<text transform="translate(57.50,147.20) scale(1.48,1)" text-anchor="end" font-family='"Liberation Sans", sans-serif' font-size="6.0" font-weight="normal" fill="#222" stroke="#222" stroke-width="0.22">0.04</text>
<text transform="translate(57.50,162.46) scale(1.48,1)" text-anchor="end" font-family='"Liberation Sans", sans-serif' font-size="6.0" font-weight="normal" fill="#222" stroke="#222" stroke-width="0.22">0.03</text>
<text transform="translate(57.50,177.71) scale(1.48,1)" text-anchor="end" font-family='"Liberation Sans", sans-serif' font-size="6.0" font-weight="normal" fill="#222" stroke="#222" stroke-width="0.22">0.02</text>
<text transform="translate(57.50,192.97) scale(1.48,1)" text-anchor="end" font-family='"Liberation Sans", sans-serif' font-size="6.0" font-weight="normal" fill="#222" stroke="#222" stroke-width="0.22">0.01</text>
<text transform="translate(57.50,208.23) scale(1.48,1)" text-anchor="end" font-family='"Liberation Sans", sans-serif' font-size="6.0" font-weight="normal" fill="#222" stroke="#222" stroke-width="0.22">0</text>
<text transform="translate(57.50,223.49) scale(1.48,1)" text-anchor="end" font-family='"Liberation Sans", sans-serif' font-size="6.0" font-weight="normal" fill="#222" stroke="#222" stroke-width="0.22">-0.01</text>
<text transform="translate(57.50,238.74) scale(1.48,1)" text-anchor="end" font-family='"Liberation Sans", sans-serif' font-size="6.0" font-weight="normal" fill="#222" stroke="#222" stroke-width="0.22">-0.02</text>
<text transform="translate(57.50,254.00) scale(1.48,1)" text-anchor="end" font-family='"Liberation Sans", sans-serif' font-size="6.0" font-weight="normal" fill="#222" stroke="#222" stroke-width="0.22">-0.03</text>
<text transform="translate(60.30,258.10) scale(1.48,1)" text-anchor="middle" font-family='"Liberation Sans", sans-serif' font-size="6.0" font-weight="normal" fill="#222" stroke="#222" stroke-width="0.22">0</text>
<text transform="translate(114.40,258.10) scale(1.48,1)" text-anchor="middle" font-family='"Liberation Sans", sans-serif' font-size="6.0" font-weight="normal" fill="#222" stroke="#222" stroke-width="0.22">50</text>
<text transform="translate(168.50,258.10) scale(1.48,1)" text-anchor="middle" font-family='"Liberation Sans", sans-serif' font-size="6.0" font-weight="normal" fill="#222" stroke="#222" stroke-width="0.22">100</text>
<text transform="translate(222.60,258.10) scale(1.48,1)" text-anchor="middle" font-family='"Liberation Sans", sans-serif' font-size="6.0" font-weight="normal" fill="#222" stroke="#222" stroke-width="0.22">150</text>
<text transform="translate(276.70,258.10) scale(1.48,1)" text-anchor="middle" font-family='"Liberation Sans", sans-serif' font-size="6.0" font-weight="normal" fill="#222" stroke="#222" stroke-width="0.22">200</text>
<text transform="translate(167.50,266.40) scale(1.48,1)" text-anchor="middle" font-family='"Liberation Sans", sans-serif' font-size="6.0" font-weight="normal" fill="#222" stroke="#222" stroke-width="0.22">time t</text>
<text x="168.50" y="140.90" text-anchor="middle" textLength="101.5" lengthAdjust="spacingAndGlyphs" font-family='"Liberation Sans", sans-serif' font-size="6.0" font-weight="normal" fill="#222">incr.GNP(USA): MA(2) fit</text>
<text transform="translate(30.00,198.60) rotate(-90) scale(1.1,1.6280000000000001)" text-anchor="middle" font-family='"Liberation Sans", sans-serif' font-size="6.0" font-weight="normal" fill="#222">x(t)</text>
<clipPath id="c2"><rect x="337.5" y="144.4" width="134.0" height="106.79999999999998"/></clipPath>
<g clip-path="url(#c2)">
<polyline points="334.15,187.12 337.50,173.39 340.85,176.44 344.20,190.17 347.55,176.44 350.90,170.34 354.25,200.85 357.60,206.95 360.95,191.70 364.30,213.06 367.65,199.33 371.00,225.26 374.35,219.16 377.70,234.42 381.05,190.17 384.40,179.49 387.75,185.59 391.10,176.44 394.45,197.80 397.80,199.33 401.15,190.17 404.50,185.59 407.85,182.54 411.20,174.91 414.55,210.01 417.90,191.70 421.25,158.13 424.60,191.70 427.95,187.12 431.30,206.95 434.65,206.95 438.00,191.70 441.35,210.01 444.70,190.17 448.05,242.05 451.40,200.85 454.75,185.59 458.10,176.44 461.45,210.01 464.80,199.33 468.15,226.79 471.50,228.31 474.85,219.16" fill="none" stroke="#1414b4" stroke-width="0.9" stroke-linejoin="round"/>
<circle cx="334.15" cy="187.12" r="1.0" fill="#1414b4"/>
<circle cx="337.50" cy="173.39" r="1.0" fill="#1414b4"/>
<circle cx="340.85" cy="176.44" r="1.0" fill="#1414b4"/>
<circle cx="344.20" cy="190.17" r="1.0" fill="#1414b4"/>
<circle cx="347.55" cy="176.44" r="1.0" fill="#1414b4"/>
<circle cx="350.90" cy="170.34" r="1.0" fill="#1414b4"/>
<circle cx="354.25" cy="200.85" r="1.0" fill="#1414b4"/>
<circle cx="357.60" cy="206.95" r="1.0" fill="#1414b4"/>
<circle cx="360.95" cy="191.70" r="1.0" fill="#1414b4"/>
<circle cx="364.30" cy="213.06" r="1.0" fill="#1414b4"/>
<circle cx="367.65" cy="199.33" r="1.0" fill="#1414b4"/>
<circle cx="371.00" cy="225.26" r="1.0" fill="#1414b4"/>
<circle cx="374.35" cy="219.16" r="1.0" fill="#1414b4"/>
<circle cx="377.70" cy="234.42" r="1.0" fill="#1414b4"/>
<circle cx="381.05" cy="190.17" r="1.0" fill="#1414b4"/>
<circle cx="384.40" cy="179.49" r="1.0" fill="#1414b4"/>
<circle cx="387.75" cy="185.59" r="1.0" fill="#1414b4"/>
<circle cx="391.10" cy="176.44" r="1.0" fill="#1414b4"/>
<circle cx="394.45" cy="197.80" r="1.0" fill="#1414b4"/>
<circle cx="397.80" cy="199.33" r="1.0" fill="#1414b4"/>
<circle cx="401.15" cy="190.17" r="1.0" fill="#1414b4"/>
<circle cx="404.50" cy="185.59" r="1.0" fill="#1414b4"/>
<circle cx="407.85" cy="182.54" r="1.0" fill="#1414b4"/>
<circle cx="411.20" cy="174.91" r="1.0" fill="#1414b4"/>
<circle cx="414.55" cy="210.01" r="1.0" fill="#1414b4"/>
<circle cx="417.90" cy="191.70" r="1.0" fill="#1414b4"/>
<circle cx="421.25" cy="158.13" r="1.0" fill="#1414b4"/>
<circle cx="424.60" cy="191.70" r="1.0" fill="#1414b4"/>
<circle cx="427.95" cy="187.12" r="1.0" fill="#1414b4"/>
<circle cx="431.30" cy="206.95" r="1.0" fill="#1414b4"/>
<circle cx="434.65" cy="206.95" r="1.0" fill="#1414b4"/>
<circle cx="438.00" cy="191.70" r="1.0" fill="#1414b4"/>
<circle cx="441.35" cy="210.01" r="1.0" fill="#1414b4"/>
<circle cx="444.70" cy="190.17" r="1.0" fill="#1414b4"/>
<circle cx="448.05" cy="242.05" r="1.0" fill="#1414b4"/>
<circle cx="451.40" cy="200.85" r="1.0" fill="#1414b4"/>
<circle cx="454.75" cy="185.59" r="1.0" fill="#1414b4"/>
<circle cx="458.10" cy="176.44" r="1.0" fill="#1414b4"/>
<circle cx="461.45" cy="210.01" r="1.0" fill="#1414b4"/>
<circle cx="464.80" cy="199.33" r="1.0" fill="#1414b4"/>
<circle cx="468.15" cy="226.79" r="1.0" fill="#1414b4"/>
<circle cx="471.50" cy="228.31" r="1.0" fill="#1414b4"/>
<circle cx="474.85" cy="219.16" r="1.0" fill="#1414b4"/>
<polyline points="334.15,201.67 337.50,194.60 340.85,183.11 344.20,185.83 347.55,193.22 350.90,189.63 354.25,183.10 357.60,193.97 360.95,202.56 364.30,193.82 367.65,196.73 371.00,199.72 374.35,202.36 377.70,205.87 381.05,207.16 384.40,196.15 387.75,183.86 391.10,189.69 394.45,190.02 397.80,192.50 401.15,197.93 404.50,193.12 407.85,189.22 411.20,189.55 414.55,187.30 417.90,196.78 421.25,198.27 424.60,179.77 427.95,186.48 431.30,197.12 434.65,196.92 438.00,199.49 441.35,193.98 444.70,196.56 448.05,196.05 451.40,206.29 454.75,204.49 458.10,186.30 461.45,185.46 464.80,198.66 468.15,200.57 471.50,202.04 474.85,209.01" fill="none" stroke="#d02828" stroke-width="0.9" stroke-linejoin="round"/>
<circle cx="334.15" cy="201.67" r="0.85" fill="#d02828"/>
<circle cx="337.50" cy="194.60" r="0.85" fill="#d02828"/>
<circle cx="340.85" cy="183.11" r="0.85" fill="#d02828"/>
<circle cx="344.20" cy="185.83" r="0.85" fill="#d02828"/>
<circle cx="347.55" cy="193.22" r="0.85" fill="#d02828"/>
<circle cx="350.90" cy="189.63" r="0.85" fill="#d02828"/>
<circle cx="354.25" cy="183.10" r="0.85" fill="#d02828"/>
<circle cx="357.60" cy="193.97" r="0.85" fill="#d02828"/>
<circle cx="360.95" cy="202.56" r="0.85" fill="#d02828"/>
<circle cx="364.30" cy="193.82" r="0.85" fill="#d02828"/>
<circle cx="367.65" cy="196.73" r="0.85" fill="#d02828"/>
<circle cx="371.00" cy="199.72" r="0.85" fill="#d02828"/>
<circle cx="374.35" cy="202.36" r="0.85" fill="#d02828"/>
<circle cx="377.70" cy="205.87" r="0.85" fill="#d02828"/>
<circle cx="381.05" cy="207.16" r="0.85" fill="#d02828"/>
<circle cx="384.40" cy="196.15" r="0.85" fill="#d02828"/>
<circle cx="387.75" cy="183.86" r="0.85" fill="#d02828"/>
<circle cx="391.10" cy="189.69" r="0.85" fill="#d02828"/>
<circle cx="394.45" cy="190.02" r="0.85" fill="#d02828"/>
<circle cx="397.80" cy="192.50" r="0.85" fill="#d02828"/>
<circle cx="401.15" cy="197.93" r="0.85" fill="#d02828"/>
<circle cx="404.50" cy="193.12" r="0.85" fill="#d02828"/>
<circle cx="407.85" cy="189.22" r="0.85" fill="#d02828"/>
<circle cx="411.20" cy="189.55" r="0.85" fill="#d02828"/>
<circle cx="414.55" cy="187.30" r="0.85" fill="#d02828"/>
<circle cx="417.90" cy="196.78" r="0.85" fill="#d02828"/>
<circle cx="421.25" cy="198.27" r="0.85" fill="#d02828"/>
<circle cx="424.60" cy="179.77" r="0.85" fill="#d02828"/>
<circle cx="427.95" cy="186.48" r="0.85" fill="#d02828"/>
<circle cx="431.30" cy="197.12" r="0.85" fill="#d02828"/>
<circle cx="434.65" cy="196.92" r="0.85" fill="#d02828"/>
<circle cx="438.00" cy="199.49" r="0.85" fill="#d02828"/>
<circle cx="441.35" cy="193.98" r="0.85" fill="#d02828"/>
<circle cx="444.70" cy="196.56" r="0.85" fill="#d02828"/>
<circle cx="448.05" cy="196.05" r="0.85" fill="#d02828"/>
<circle cx="451.40" cy="206.29" r="0.85" fill="#d02828"/>
<circle cx="454.75" cy="204.49" r="0.85" fill="#d02828"/>
<circle cx="458.10" cy="186.30" r="0.85" fill="#d02828"/>
<circle cx="461.45" cy="185.46" r="0.85" fill="#d02828"/>
<circle cx="464.80" cy="198.66" r="0.85" fill="#d02828"/>
<circle cx="468.15" cy="200.57" r="0.85" fill="#d02828"/>
<circle cx="471.50" cy="202.04" r="0.85" fill="#d02828"/>
<circle cx="474.85" cy="209.01" r="0.85" fill="#d02828"/>
</g>
<rect x="337.5" y="144.4" width="134.0" height="106.79999999999998" fill="none" stroke="#000" stroke-width="1.1"/>
<path d="M337.50 251.2 v-2 M337.50 144.4 v2 M371.00 251.2 v-2 M371.00 144.4 v2 M404.50 251.2 v-2 M404.50 144.4 v2 M438.00 251.2 v-2 M438.00 144.4 v2 M471.50 251.2 v-2 M471.50 144.4 v2 M337.5 144.40 h2 M471.5 144.40 h-2 M337.5 159.66 h2 M471.5 159.66 h-2 M337.5 174.91 h2 M471.5 174.91 h-2 M337.5 190.17 h2 M471.5 190.17 h-2 M337.5 205.43 h2 M471.5 205.43 h-2 M337.5 220.69 h2 M471.5 220.69 h-2 M337.5 235.94 h2 M471.5 235.94 h-2 M337.5 251.20 h2 M471.5 251.20 h-2" stroke="#000" stroke-width="0.8"/>
<text transform="translate(335.60,146.60) scale(0.93,1)" text-anchor="end" font-family='"Liberation Sans", sans-serif' font-size="6.0" font-weight="normal" fill="#2a2a2a" stroke="#2a2a2a" stroke-width="0">0.04</text>
<text transform="translate(335.60,161.86) scale(0.93,1)" text-anchor="end" font-family='"Liberation Sans", sans-serif' font-size="6.0" font-weight="normal" fill="#2a2a2a" stroke="#2a2a2a" stroke-width="0">0.03</text>
<text transform="translate(335.60,177.11) scale(0.93,1)" text-anchor="end" font-family='"Liberation Sans", sans-serif' font-size="6.0" font-weight="normal" fill="#2a2a2a" stroke="#2a2a2a" stroke-width="0">0.02</text>
<text transform="translate(335.60,192.37) scale(0.93,1)" text-anchor="end" font-family='"Liberation Sans", sans-serif' font-size="6.0" font-weight="normal" fill="#2a2a2a" stroke="#2a2a2a" stroke-width="0">0.01</text>
<text transform="translate(335.60,207.63) scale(0.93,1)" text-anchor="end" font-family='"Liberation Sans", sans-serif' font-size="6.0" font-weight="normal" fill="#2a2a2a" stroke="#2a2a2a" stroke-width="0">0</text>
<text transform="translate(335.60,222.89) scale(0.93,1)" text-anchor="end" font-family='"Liberation Sans", sans-serif' font-size="6.0" font-weight="normal" fill="#2a2a2a" stroke="#2a2a2a" stroke-width="0">-0.01</text>
<text transform="translate(335.60,238.14) scale(0.93,1)" text-anchor="end" font-family='"Liberation Sans", sans-serif' font-size="6.0" font-weight="normal" fill="#2a2a2a" stroke="#2a2a2a" stroke-width="0">-0.02</text>
<text transform="translate(335.60,253.40) scale(0.93,1)" text-anchor="end" font-family='"Liberation Sans", sans-serif' font-size="6.0" font-weight="normal" fill="#2a2a2a" stroke="#2a2a2a" stroke-width="0">-0.03</text>
<text transform="translate(337.50,258.40) scale(1.0,1)" text-anchor="middle" font-family='"Liberation Sans", sans-serif' font-size="6.0" font-weight="normal" fill="#2a2a2a" stroke="#2a2a2a" stroke-width="0">100</text>
<text transform="translate(371.00,258.40) scale(1.0,1)" text-anchor="middle" font-family='"Liberation Sans", sans-serif' font-size="6.0" font-weight="normal" fill="#2a2a2a" stroke="#2a2a2a" stroke-width="0">110</text>
<text transform="translate(404.50,258.40) scale(1.0,1)" text-anchor="middle" font-family='"Liberation Sans", sans-serif' font-size="6.0" font-weight="normal" fill="#2a2a2a" stroke="#2a2a2a" stroke-width="0">120</text>
<text transform="translate(438.00,258.40) scale(1.0,1)" text-anchor="middle" font-family='"Liberation Sans", sans-serif' font-size="6.0" font-weight="normal" fill="#2a2a2a" stroke="#2a2a2a" stroke-width="0">130</text>
<text transform="translate(471.50,258.40) scale(1.0,1)" text-anchor="middle" font-family='"Liberation Sans", sans-serif' font-size="6.0" font-weight="normal" fill="#2a2a2a" stroke="#2a2a2a" stroke-width="0">140</text>
<text transform="translate(403.50,266.20) scale(1.0,1)" text-anchor="middle" font-family='"Liberation Sans", sans-serif' font-size="6.0" font-weight="normal" fill="#2a2a2a" stroke="#2a2a2a" stroke-width="0">time t</text>
<text x="404.50" y="140.90" text-anchor="middle" textLength="63" lengthAdjust="spacingAndGlyphs" font-family='"Liberation Sans", sans-serif' font-size="6.0" font-weight="normal" fill="#2a2a2a">incr.GNP(USA): MA(2) fit</text>
<text transform="translate(318.30,198.60) rotate(-90) scale(1.05,0.92)" text-anchor="middle" font-family='"Liberation Sans", sans-serif' font-size="6.0" font-weight="normal" fill="#2a2a2a">x(t)</text>
<clipPath id="c3"><rect x="60.3" y="285.3" width="216.39999999999998" height="106.19999999999999"/></clipPath>
<g clip-path="url(#c3)">
<polyline points="61.38,336.88 62.46,327.78 63.55,333.85 64.63,327.78 65.71,318.68 66.79,332.33 67.87,336.88 68.96,362.67 70.04,355.09 71.12,345.99 72.20,361.16 73.28,285.30 74.37,305.02 75.45,289.85 76.53,309.57 77.61,306.54 78.69,317.16 79.78,312.61 80.86,330.81 81.94,349.02 83.02,333.85 84.10,327.78 85.19,314.13 86.27,327.78 87.35,318.68 88.43,353.57 89.51,352.05 90.60,367.23 91.68,336.88 92.76,329.30 93.84,324.75 94.92,314.13 96.01,326.26 97.09,330.81 98.17,335.37 99.25,349.02 100.33,332.33 101.42,341.43 102.50,327.78 103.58,329.30 104.66,347.50 105.74,342.95 106.83,333.85 107.91,376.33 108.99,355.09 110.07,309.57 111.15,309.57 112.24,330.81 113.32,317.16 114.40,353.57 115.48,327.78 116.56,320.19 117.65,339.92 118.73,349.02 119.81,358.12 120.89,330.81 121.97,327.78 123.06,333.85 124.14,312.61 125.22,312.61 126.30,332.33 127.38,327.78 128.47,347.50 129.55,333.85 130.63,320.19 131.71,324.75 132.79,329.30 133.88,335.37 134.96,312.61 136.04,333.85 137.12,327.78 138.20,314.13 139.29,330.81 140.37,321.71 141.45,311.09 142.53,318.68 143.61,342.95 144.70,338.40 145.78,330.81 146.86,333.85 147.94,326.26 149.02,336.88 150.11,332.33 151.19,320.19 152.27,329.30 153.35,347.50 154.43,352.05 155.52,324.75 156.60,353.57 157.68,352.05 158.76,333.85 159.84,339.92 160.93,327.78 162.01,342.95 163.09,359.64 164.17,306.54 165.25,335.37 166.34,345.99 167.42,327.78 168.50,314.13 169.58,317.16 170.66,330.81 171.75,317.16 172.83,311.09 173.91,341.43 174.99,347.50 176.07,332.33 177.16,353.57 178.24,339.92 179.32,365.71 180.40,359.64 181.48,374.81 182.57,330.81 183.65,320.19 184.73,326.26 185.81,317.16 186.89,338.40 187.98,339.92 189.06,330.81 190.14,326.26 191.22,323.23 192.30,315.64 193.39,350.54 194.47,332.33 195.55,298.95 196.63,332.33 197.71,327.78 198.80,347.50 199.88,347.50 200.96,332.33 202.04,350.54 203.12,330.81 204.21,382.40 205.29,341.43 206.37,326.26 207.45,317.16 208.53,350.54 209.62,339.92 210.70,367.23 211.78,368.74 212.86,359.64 213.94,339.92 215.03,330.81 216.11,323.23 217.19,312.61 218.27,333.85 219.35,326.26 220.44,308.06 221.52,324.75 222.60,338.40 223.68,332.33 224.76,327.78 225.85,336.88 226.93,330.81 228.01,339.92 229.09,321.71 230.17,352.05 231.26,336.88 232.34,327.78 233.42,329.30 234.50,333.85 235.58,332.33 236.67,321.71 237.75,330.81 238.83,327.78 239.91,332.33 240.99,333.85 242.08,336.88 243.16,339.92 244.24,338.40 245.32,342.95 246.40,339.92 247.49,344.47 248.57,341.43 249.65,352.05 250.73,355.09" fill="none" stroke="#1414b4" stroke-width="1.1" stroke-linejoin="round"/>
<path d="M59.58 336.88 h3.6 M60.66 327.78 h3.6 M61.75 333.85 h3.6 M62.83 327.78 h3.6 M63.91 318.68 h3.6 M64.99 332.33 h3.6 M66.07 336.88 h3.6 M67.16 362.67 h3.6 M68.24 355.09 h3.6 M69.32 345.99 h3.6 M70.40 361.16 h3.6 M71.48 285.30 h3.6 M72.57 305.02 h3.6 M73.65 289.85 h3.6 M74.73 309.57 h3.6 M75.81 306.54 h3.6 M76.89 317.16 h3.6 M77.98 312.61 h3.6 M79.06 330.81 h3.6 M80.14 349.02 h3.6 M81.22 333.85 h3.6 M82.30 327.78 h3.6 M83.39 314.13 h3.6 M84.47 327.78 h3.6 M85.55 318.68 h3.6 M86.63 353.57 h3.6 M87.71 352.05 h3.6 M88.80 367.23 h3.6 M89.88 336.88 h3.6 M90.96 329.30 h3.6 M92.04 324.75 h3.6 M93.12 314.13 h3.6 M94.21 326.26 h3.6 M95.29 330.81 h3.6 M96.37 335.37 h3.6 M97.45 349.02 h3.6 M98.53 332.33 h3.6 M99.62 341.43 h3.6 M100.70 327.78 h3.6 M101.78 329.30 h3.6 M102.86 347.50 h3.6 M103.94 342.95 h3.6 M105.03 333.85 h3.6 M106.11 376.33 h3.6 M107.19 355.09 h3.6 M108.27 309.57 h3.6 M109.35 309.57 h3.6 M110.44 330.81 h3.6 M111.52 317.16 h3.6 M112.60 353.57 h3.6 M113.68 327.78 h3.6 M114.76 320.19 h3.6 M115.85 339.92 h3.6 M116.93 349.02 h3.6 M118.01 358.12 h3.6 M119.09 330.81 h3.6 M120.17 327.78 h3.6 M121.26 333.85 h3.6 M122.34 312.61 h3.6 M123.42 312.61 h3.6 M124.50 332.33 h3.6 M125.58 327.78 h3.6 M126.67 347.50 h3.6 M127.75 333.85 h3.6 M128.83 320.19 h3.6 M129.91 324.75 h3.6 M130.99 329.30 h3.6 M132.08 335.37 h3.6 M133.16 312.61 h3.6 M134.24 333.85 h3.6 M135.32 327.78 h3.6 M136.40 314.13 h3.6 M137.49 330.81 h3.6 M138.57 321.71 h3.6 M139.65 311.09 h3.6 M140.73 318.68 h3.6 M141.81 342.95 h3.6 M142.90 338.40 h3.6 M143.98 330.81 h3.6 M145.06 333.85 h3.6 M146.14 326.26 h3.6 M147.22 336.88 h3.6 M148.31 332.33 h3.6 M149.39 320.19 h3.6 M150.47 329.30 h3.6 M151.55 347.50 h3.6 M152.63 352.05 h3.6 M153.72 324.75 h3.6 M154.80 353.57 h3.6 M155.88 352.05 h3.6 M156.96 333.85 h3.6 M158.04 339.92 h3.6 M159.13 327.78 h3.6 M160.21 342.95 h3.6 M161.29 359.64 h3.6 M162.37 306.54 h3.6 M163.45 335.37 h3.6 M164.54 345.99 h3.6 M165.62 327.78 h3.6 M166.70 314.13 h3.6 M167.78 317.16 h3.6 M168.86 330.81 h3.6 M169.95 317.16 h3.6 M171.03 311.09 h3.6 M172.11 341.43 h3.6 M173.19 347.50 h3.6 M174.27 332.33 h3.6 M175.36 353.57 h3.6 M176.44 339.92 h3.6 M177.52 365.71 h3.6 M178.60 359.64 h3.6 M179.68 374.81 h3.6 M180.77 330.81 h3.6 M181.85 320.19 h3.6 M182.93 326.26 h3.6 M184.01 317.16 h3.6 M185.09 338.40 h3.6 M186.18 339.92 h3.6 M187.26 330.81 h3.6 M188.34 326.26 h3.6 M189.42 323.23 h3.6 M190.50 315.64 h3.6 M191.59 350.54 h3.6 M192.67 332.33 h3.6 M193.75 298.95 h3.6 M194.83 332.33 h3.6 M195.91 327.78 h3.6 M197.00 347.50 h3.6 M198.08 347.50 h3.6 M199.16 332.33 h3.6 M200.24 350.54 h3.6 M201.32 330.81 h3.6 M202.41 382.40 h3.6 M203.49 341.43 h3.6 M204.57 326.26 h3.6 M205.65 317.16 h3.6 M206.73 350.54 h3.6 M207.82 339.92 h3.6 M208.90 367.23 h3.6 M209.98 368.74 h3.6 M211.06 359.64 h3.6 M212.14 339.92 h3.6 M213.23 330.81 h3.6 M214.31 323.23 h3.6 M215.39 312.61 h3.6 M216.47 333.85 h3.6 M217.55 326.26 h3.6 M218.64 308.06 h3.6 M219.72 324.75 h3.6 M220.80 338.40 h3.6 M221.88 332.33 h3.6 M222.96 327.78 h3.6 M224.05 336.88 h3.6 M225.13 330.81 h3.6 M226.21 339.92 h3.6 M227.29 321.71 h3.6 M228.37 352.05 h3.6 M229.46 336.88 h3.6 M230.54 327.78 h3.6 M231.62 329.30 h3.6 M232.70 333.85 h3.6 M233.78 332.33 h3.6 M234.87 321.71 h3.6 M235.95 330.81 h3.6 M237.03 327.78 h3.6 M238.11 332.33 h3.6 M239.19 333.85 h3.6 M240.28 336.88 h3.6 M241.36 339.92 h3.6 M242.44 338.40 h3.6 M243.52 342.95 h3.6 M244.60 339.92 h3.6 M245.69 344.47 h3.6 M246.77 341.43 h3.6 M247.85 352.05 h3.6 M248.93 355.09 h3.6" stroke="#1414b4" stroke-width="1.5"/>
<polyline points="61.38,334.36 62.46,335.26 63.55,332.55 64.63,332.67 65.71,332.93 66.79,327.82 67.87,331.80 68.96,337.12 70.04,344.97 71.12,346.30 72.20,338.11 73.28,342.84 74.37,320.45 75.45,311.58 76.53,320.61 77.61,321.95 78.69,326.58 79.78,326.93 80.86,327.68 81.94,331.69 83.02,341.93 84.10,337.33 85.19,329.92 86.27,326.23 87.35,329.40 88.43,330.62 89.51,339.19 90.60,346.20 91.68,346.26 92.76,338.63 93.84,328.40 94.92,329.77 96.01,326.34 97.09,329.30 98.17,334.57 99.25,335.24 100.33,340.16 101.42,336.15 102.50,334.40 103.58,333.64 104.66,330.44 105.74,338.98 106.83,340.44 107.91,333.87 108.99,347.67 110.07,349.18 111.15,323.50 112.24,318.37 113.32,332.23 114.40,331.28 115.48,338.49 116.56,337.97 117.65,325.54 118.73,334.71 119.81,342.49 120.89,344.48 121.97,335.32 123.06,328.08 124.14,333.53 125.22,327.65 126.30,322.99 127.38,332.87 128.47,334.81 129.55,338.06 130.63,337.49 131.71,327.49 132.79,328.57 133.88,332.91 134.96,335.19 136.04,327.71 137.12,330.16 138.20,335.09 139.29,326.23 140.37,330.46 141.45,332.22 142.53,324.52 143.61,326.55 144.70,337.87 145.78,339.55 146.86,332.65 147.94,332.99 149.02,331.97 150.11,333.88 151.19,335.27 152.27,328.73 153.35,330.37 154.43,340.06 155.52,343.61 156.60,332.33 157.68,336.83 158.76,345.34 159.84,334.64 160.93,333.71 162.01,333.16 163.09,335.40 164.17,345.65 165.25,328.00 166.34,326.16 167.42,342.56 168.50,334.03 169.58,324.51 170.66,325.71 171.75,332.94 172.83,330.20 173.91,323.71 174.99,335.12 176.07,343.52 177.16,335.02 178.24,338.84 179.32,340.04 180.40,343.56 181.48,348.00 182.57,348.53 183.65,336.80 184.73,323.07 185.81,329.53 186.89,328.96 187.98,333.86 189.06,339.48 190.14,333.57 191.22,330.14 192.30,329.56 193.39,327.02 194.47,338.24 195.55,339.23 196.63,319.40 197.71,327.62 198.80,336.75 199.88,338.06 200.96,342.24 202.04,334.16 203.12,337.78 204.21,336.33 205.29,348.16 206.37,345.94 207.45,326.01 208.53,325.94 209.62,338.08 210.70,341.65 211.78,344.51 212.86,351.44 213.94,344.66 215.03,335.96 216.11,330.55 217.19,329.08 218.27,325.32 219.35,331.89 220.44,334.56 221.52,323.85 222.60,327.48 223.68,337.80 224.76,335.76 225.85,331.15 226.93,334.37 228.01,334.53 229.09,335.32 230.17,331.48 231.26,337.48 232.34,340.22 233.42,330.03 234.50,331.08 235.58,334.23 236.67,334.30 237.75,329.69 238.83,331.17 239.91,333.25 240.99,333.00 242.08,334.77 243.16,335.45 244.24,336.84 245.32,336.42 246.40,337.30 247.49,337.28 248.57,337.67 249.65,337.86 250.73,340.37" fill="none" stroke="#e01c1c" stroke-width="1.1" stroke-linejoin="round"/>
<path d="M59.48 334.36 h3.8 M61.38 332.56 v3.6 M60.08 333.06 l2.6 2.6 M60.08 335.66 l2.6 -2.6 M60.56 335.26 h3.8 M62.46 333.46 v3.6 M61.16 333.96 l2.6 2.6 M61.16 336.56 l2.6 -2.6 M61.65 332.55 h3.8 M63.55 330.75 v3.6 M62.25 331.25 l2.6 2.6 M62.25 333.85 l2.6 -2.6 M62.73 332.67 h3.8 M64.63 330.87 v3.6 M63.33 331.37 l2.6 2.6 M63.33 333.97 l2.6 -2.6 M63.81 332.93 h3.8 M65.71 331.13 v3.6 M64.41 331.63 l2.6 2.6 M64.41 334.23 l2.6 -2.6 M64.89 327.82 h3.8 M66.79 326.02 v3.6 M65.49 326.52 l2.6 2.6 M65.49 329.12 l2.6 -2.6 M65.97 331.80 h3.8 M67.87 330.00 v3.6 M66.57 330.50 l2.6 2.6 M66.57 333.10 l2.6 -2.6 M67.06 337.12 h3.8 M68.96 335.32 v3.6 M67.66 335.82 l2.6 2.6 M67.66 338.42 l2.6 -2.6 M68.14 344.97 h3.8 M70.04 343.17 v3.6 M68.74 343.67 l2.6 2.6 M68.74 346.27 l2.6 -2.6 M69.22 346.30 h3.8 M71.12 344.50 v3.6 M69.82 345.00 l2.6 2.6 M69.82 347.60 l2.6 -2.6 M70.30 338.11 h3.8 M72.20 336.31 v3.6 M70.90 336.81 l2.6 2.6 M70.90 339.41 l2.6 -2.6 M71.38 342.84 h3.8 M73.28 341.04 v3.6 M71.98 341.54 l2.6 2.6 M71.98 344.14 l2.6 -2.6 M72.47 320.45 h3.8 M74.37 318.65 v3.6 M73.07 319.15 l2.6 2.6 M73.07 321.75 l2.6 -2.6 M73.55 311.58 h3.8 M75.45 309.78 v3.6 M74.15 310.28 l2.6 2.6 M74.15 312.88 l2.6 -2.6 M74.63 320.61 h3.8 M76.53 318.81 v3.6 M75.23 319.31 l2.6 2.6 M75.23 321.91 l2.6 -2.6 M75.71 321.95 h3.8 M77.61 320.15 v3.6 M76.31 320.65 l2.6 2.6 M76.31 323.25 l2.6 -2.6 M76.79 326.58 h3.8 M78.69 324.78 v3.6 M77.39 325.28 l2.6 2.6 M77.39 327.88 l2.6 -2.6 M77.88 326.93 h3.8 M79.78 325.13 v3.6 M78.48 325.63 l2.6 2.6 M78.48 328.23 l2.6 -2.6 M78.96 327.68 h3.8 M80.86 325.88 v3.6 M79.56 326.38 l2.6 2.6 M79.56 328.98 l2.6 -2.6 M80.04 331.69 h3.8 M81.94 329.89 v3.6 M80.64 330.39 l2.6 2.6 M80.64 332.99 l2.6 -2.6 M81.12 341.93 h3.8 M83.02 340.13 v3.6 M81.72 340.63 l2.6 2.6 M81.72 343.23 l2.6 -2.6 M82.20 337.33 h3.8 M84.10 335.53 v3.6 M82.80 336.03 l2.6 2.6 M82.80 338.63 l2.6 -2.6 M83.29 329.92 h3.8 M85.19 328.12 v3.6 M83.89 328.62 l2.6 2.6 M83.89 331.22 l2.6 -2.6 M84.37 326.23 h3.8 M86.27 324.43 v3.6 M84.97 324.93 l2.6 2.6 M84.97 327.53 l2.6 -2.6 M85.45 329.40 h3.8 M87.35 327.60 v3.6 M86.05 328.10 l2.6 2.6 M86.05 330.70 l2.6 -2.6 M86.53 330.62 h3.8 M88.43 328.82 v3.6 M87.13 329.32 l2.6 2.6 M87.13 331.92 l2.6 -2.6 M87.61 339.19 h3.8 M89.51 337.39 v3.6 M88.21 337.89 l2.6 2.6 M88.21 340.49 l2.6 -2.6 M88.70 346.20 h3.8 M90.60 344.40 v3.6 M89.30 344.90 l2.6 2.6 M89.30 347.50 l2.6 -2.6 M89.78 346.26 h3.8 M91.68 344.46 v3.6 M90.38 344.96 l2.6 2.6 M90.38 347.56 l2.6 -2.6 M90.86 338.63 h3.8 M92.76 336.83 v3.6 M91.46 337.33 l2.6 2.6 M91.46 339.93 l2.6 -2.6 M91.94 328.40 h3.8 M93.84 326.60 v3.6 M92.54 327.10 l2.6 2.6 M92.54 329.70 l2.6 -2.6 M93.02 329.77 h3.8 M94.92 327.97 v3.6 M93.62 328.47 l2.6 2.6 M93.62 331.07 l2.6 -2.6 M94.11 326.34 h3.8 M96.01 324.54 v3.6 M94.71 325.04 l2.6 2.6 M94.71 327.64 l2.6 -2.6 M95.19 329.30 h3.8 M97.09 327.50 v3.6 M95.79 328.00 l2.6 2.6 M95.79 330.60 l2.6 -2.6 M96.27 334.57 h3.8 M98.17 332.77 v3.6 M96.87 333.27 l2.6 2.6 M96.87 335.87 l2.6 -2.6 M97.35 335.24 h3.8 M99.25 333.44 v3.6 M97.95 333.94 l2.6 2.6 M97.95 336.54 l2.6 -2.6 M98.43 340.16 h3.8 M100.33 338.36 v3.6 M99.03 338.86 l2.6 2.6 M99.03 341.46 l2.6 -2.6 M99.52 336.15 h3.8 M101.42 334.35 v3.6 M100.12 334.85 l2.6 2.6 M100.12 337.45 l2.6 -2.6 M100.60 334.40 h3.8 M102.50 332.60 v3.6 M101.20 333.10 l2.6 2.6 M101.20 335.70 l2.6 -2.6 M101.68 333.64 h3.8 M103.58 331.84 v3.6 M102.28 332.34 l2.6 2.6 M102.28 334.94 l2.6 -2.6 M102.76 330.44 h3.8 M104.66 328.63 v3.6 M103.36 329.13 l2.6 2.6 M103.36 331.74 l2.6 -2.6 M103.84 338.98 h3.8 M105.74 337.18 v3.6 M104.44 337.68 l2.6 2.6 M104.44 340.28 l2.6 -2.6 M104.93 340.44 h3.8 M106.83 338.64 v3.6 M105.53 339.14 l2.6 2.6 M105.53 341.74 l2.6 -2.6 M106.01 333.87 h3.8 M107.91 332.07 v3.6 M106.61 332.57 l2.6 2.6 M106.61 335.17 l2.6 -2.6 M107.09 347.67 h3.8 M108.99 345.87 v3.6 M107.69 346.37 l2.6 2.6 M107.69 348.97 l2.6 -2.6 M108.17 349.18 h3.8 M110.07 347.38 v3.6 M108.77 347.88 l2.6 2.6 M108.77 350.48 l2.6 -2.6 M109.25 323.50 h3.8 M111.15 321.70 v3.6 M109.85 322.20 l2.6 2.6 M109.85 324.80 l2.6 -2.6 M110.34 318.37 h3.8 M112.24 316.57 v3.6 M110.94 317.07 l2.6 2.6 M110.94 319.67 l2.6 -2.6 M111.42 332.23 h3.8 M113.32 330.43 v3.6 M112.02 330.93 l2.6 2.6 M112.02 333.53 l2.6 -2.6 M112.50 331.28 h3.8 M114.40 329.48 v3.6 M113.10 329.98 l2.6 2.6 M113.10 332.58 l2.6 -2.6 M113.58 338.49 h3.8 M115.48 336.69 v3.6 M114.18 337.19 l2.6 2.6 M114.18 339.79 l2.6 -2.6 M114.66 337.97 h3.8 M116.56 336.17 v3.6 M115.26 336.67 l2.6 2.6 M115.26 339.27 l2.6 -2.6 M115.75 325.54 h3.8 M117.65 323.74 v3.6 M116.35 324.24 l2.6 2.6 M116.35 326.84 l2.6 -2.6 M116.83 334.71 h3.8 M118.73 332.91 v3.6 M117.43 333.41 l2.6 2.6 M117.43 336.01 l2.6 -2.6 M117.91 342.49 h3.8 M119.81 340.69 v3.6 M118.51 341.19 l2.6 2.6 M118.51 343.79 l2.6 -2.6 M118.99 344.48 h3.8 M120.89 342.68 v3.6 M119.59 343.18 l2.6 2.6 M119.59 345.78 l2.6 -2.6 M120.07 335.32 h3.8 M121.97 333.52 v3.6 M120.67 334.02 l2.6 2.6 M120.67 336.62 l2.6 -2.6 M121.16 328.08 h3.8 M123.06 326.28 v3.6 M121.76 326.78 l2.6 2.6 M121.76 329.38 l2.6 -2.6 M122.24 333.53 h3.8 M124.14 331.73 v3.6 M122.84 332.23 l2.6 2.6 M122.84 334.83 l2.6 -2.6 M123.32 327.65 h3.8 M125.22 325.85 v3.6 M123.92 326.35 l2.6 2.6 M123.92 328.95 l2.6 -2.6 M124.40 322.99 h3.8 M126.30 321.19 v3.6 M125.00 321.69 l2.6 2.6 M125.00 324.29 l2.6 -2.6 M125.48 332.87 h3.8 M127.38 331.07 v3.6 M126.08 331.57 l2.6 2.6 M126.08 334.17 l2.6 -2.6 M126.57 334.81 h3.8 M128.47 333.01 v3.6 M127.17 333.51 l2.6 2.6 M127.17 336.11 l2.6 -2.6 M127.65 338.06 h3.8 M129.55 336.26 v3.6 M128.25 336.76 l2.6 2.6 M128.25 339.36 l2.6 -2.6 M128.73 337.49 h3.8 M130.63 335.69 v3.6 M129.33 336.19 l2.6 2.6 M129.33 338.79 l2.6 -2.6 M129.81 327.49 h3.8 M131.71 325.69 v3.6 M130.41 326.19 l2.6 2.6 M130.41 328.79 l2.6 -2.6 M130.89 328.57 h3.8 M132.79 326.77 v3.6 M131.49 327.27 l2.6 2.6 M131.49 329.87 l2.6 -2.6 M131.98 332.91 h3.8 M133.88 331.11 v3.6 M132.58 331.61 l2.6 2.6 M132.58 334.21 l2.6 -2.6 M133.06 335.19 h3.8 M134.96 333.39 v3.6 M133.66 333.89 l2.6 2.6 M133.66 336.49 l2.6 -2.6 M134.14 327.71 h3.8 M136.04 325.91 v3.6 M134.74 326.41 l2.6 2.6 M134.74 329.01 l2.6 -2.6 M135.22 330.16 h3.8 M137.12 328.36 v3.6 M135.82 328.86 l2.6 2.6 M135.82 331.46 l2.6 -2.6 M136.30 335.09 h3.8 M138.20 333.29 v3.6 M136.90 333.79 l2.6 2.6 M136.90 336.39 l2.6 -2.6 M137.39 326.23 h3.8 M139.29 324.43 v3.6 M137.99 324.93 l2.6 2.6 M137.99 327.53 l2.6 -2.6 M138.47 330.46 h3.8 M140.37 328.66 v3.6 M139.07 329.16 l2.6 2.6 M139.07 331.76 l2.6 -2.6 M139.55 332.22 h3.8 M141.45 330.42 v3.6 M140.15 330.92 l2.6 2.6 M140.15 333.52 l2.6 -2.6 M140.63 324.52 h3.8 M142.53 322.72 v3.6 M141.23 323.22 l2.6 2.6 M141.23 325.82 l2.6 -2.6 M141.71 326.55 h3.8 M143.61 324.75 v3.6 M142.31 325.25 l2.6 2.6 M142.31 327.85 l2.6 -2.6 M142.80 337.87 h3.8 M144.70 336.07 v3.6 M143.40 336.57 l2.6 2.6 M143.40 339.17 l2.6 -2.6 M143.88 339.55 h3.8 M145.78 337.75 v3.6 M144.48 338.25 l2.6 2.6 M144.48 340.85 l2.6 -2.6 M144.96 332.65 h3.8 M146.86 330.85 v3.6 M145.56 331.35 l2.6 2.6 M145.56 333.95 l2.6 -2.6 M146.04 332.99 h3.8 M147.94 331.19 v3.6 M146.64 331.69 l2.6 2.6 M146.64 334.29 l2.6 -2.6 M147.12 331.97 h3.8 M149.02 330.17 v3.6 M147.72 330.67 l2.6 2.6 M147.72 333.27 l2.6 -2.6 M148.21 333.88 h3.8 M150.11 332.08 v3.6 M148.81 332.58 l2.6 2.6 M148.81 335.18 l2.6 -2.6 M149.29 335.27 h3.8 M151.19 333.47 v3.6 M149.89 333.97 l2.6 2.6 M149.89 336.57 l2.6 -2.6 M150.37 328.73 h3.8 M152.27 326.93 v3.6 M150.97 327.43 l2.6 2.6 M150.97 330.03 l2.6 -2.6 M151.45 330.37 h3.8 M153.35 328.57 v3.6 M152.05 329.07 l2.6 2.6 M152.05 331.67 l2.6 -2.6 M152.53 340.06 h3.8 M154.43 338.26 v3.6 M153.13 338.76 l2.6 2.6 M153.13 341.36 l2.6 -2.6 M153.62 343.61 h3.8 M155.52 341.81 v3.6 M154.22 342.31 l2.6 2.6 M154.22 344.91 l2.6 -2.6 M154.70 332.33 h3.8 M156.60 330.53 v3.6 M155.30 331.03 l2.6 2.6 M155.30 333.63 l2.6 -2.6 M155.78 336.83 h3.8 M157.68 335.03 v3.6 M156.38 335.53 l2.6 2.6 M156.38 338.13 l2.6 -2.6 M156.86 345.34 h3.8 M158.76 343.54 v3.6 M157.46 344.04 l2.6 2.6 M157.46 346.64 l2.6 -2.6 M157.94 334.64 h3.8 M159.84 332.84 v3.6 M158.54 333.34 l2.6 2.6 M158.54 335.94 l2.6 -2.6 M159.03 333.71 h3.8 M160.93 331.91 v3.6 M159.63 332.41 l2.6 2.6 M159.63 335.01 l2.6 -2.6 M160.11 333.16 h3.8 M162.01 331.36 v3.6 M160.71 331.86 l2.6 2.6 M160.71 334.46 l2.6 -2.6 M161.19 335.40 h3.8 M163.09 333.60 v3.6 M161.79 334.10 l2.6 2.6 M161.79 336.70 l2.6 -2.6 M162.27 345.65 h3.8 M164.17 343.85 v3.6 M162.87 344.35 l2.6 2.6 M162.87 346.95 l2.6 -2.6 M163.35 328.00 h3.8 M165.25 326.20 v3.6 M163.95 326.70 l2.6 2.6 M163.95 329.30 l2.6 -2.6 M164.44 326.16 h3.8 M166.34 324.36 v3.6 M165.04 324.86 l2.6 2.6 M165.04 327.46 l2.6 -2.6 M165.52 342.56 h3.8 M167.42 340.76 v3.6 M166.12 341.26 l2.6 2.6 M166.12 343.86 l2.6 -2.6 M166.60 334.03 h3.8 M168.50 332.23 v3.6 M167.20 332.73 l2.6 2.6 M167.20 335.33 l2.6 -2.6 M167.68 324.51 h3.8 M169.58 322.71 v3.6 M168.28 323.21 l2.6 2.6 M168.28 325.81 l2.6 -2.6 M168.76 325.71 h3.8 M170.66 323.91 v3.6 M169.36 324.41 l2.6 2.6 M169.36 327.01 l2.6 -2.6 M169.85 332.94 h3.8 M171.75 331.14 v3.6 M170.45 331.64 l2.6 2.6 M170.45 334.24 l2.6 -2.6 M170.93 330.20 h3.8 M172.83 328.40 v3.6 M171.53 328.90 l2.6 2.6 M171.53 331.50 l2.6 -2.6 M172.01 323.71 h3.8 M173.91 321.91 v3.6 M172.61 322.41 l2.6 2.6 M172.61 325.01 l2.6 -2.6 M173.09 335.12 h3.8 M174.99 333.32 v3.6 M173.69 333.82 l2.6 2.6 M173.69 336.42 l2.6 -2.6 M174.17 343.52 h3.8 M176.07 341.72 v3.6 M174.77 342.22 l2.6 2.6 M174.77 344.82 l2.6 -2.6 M175.26 335.02 h3.8 M177.16 333.22 v3.6 M175.86 333.72 l2.6 2.6 M175.86 336.32 l2.6 -2.6 M176.34 338.84 h3.8 M178.24 337.04 v3.6 M176.94 337.54 l2.6 2.6 M176.94 340.14 l2.6 -2.6 M177.42 340.04 h3.8 M179.32 338.24 v3.6 M178.02 338.74 l2.6 2.6 M178.02 341.34 l2.6 -2.6 M178.50 343.56 h3.8 M180.40 341.76 v3.6 M179.10 342.26 l2.6 2.6 M179.10 344.86 l2.6 -2.6 M179.58 348.00 h3.8 M181.48 346.20 v3.6 M180.18 346.70 l2.6 2.6 M180.18 349.30 l2.6 -2.6 M180.67 348.53 h3.8 M182.57 346.73 v3.6 M181.27 347.23 l2.6 2.6 M181.27 349.83 l2.6 -2.6 M181.75 336.80 h3.8 M183.65 335.00 v3.6 M182.35 335.50 l2.6 2.6 M182.35 338.10 l2.6 -2.6 M182.83 323.07 h3.8 M184.73 321.27 v3.6 M183.43 321.77 l2.6 2.6 M183.43 324.37 l2.6 -2.6 M183.91 329.53 h3.8 M185.81 327.73 v3.6 M184.51 328.23 l2.6 2.6 M184.51 330.83 l2.6 -2.6 M184.99 328.96 h3.8 M186.89 327.16 v3.6 M185.59 327.66 l2.6 2.6 M185.59 330.26 l2.6 -2.6 M186.08 333.86 h3.8 M187.98 332.06 v3.6 M186.68 332.56 l2.6 2.6 M186.68 335.16 l2.6 -2.6 M187.16 339.48 h3.8 M189.06 337.68 v3.6 M187.76 338.18 l2.6 2.6 M187.76 340.78 l2.6 -2.6 M188.24 333.57 h3.8 M190.14 331.77 v3.6 M188.84 332.27 l2.6 2.6 M188.84 334.87 l2.6 -2.6 M189.32 330.14 h3.8 M191.22 328.34 v3.6 M189.92 328.84 l2.6 2.6 M189.92 331.44 l2.6 -2.6 M190.40 329.56 h3.8 M192.30 327.76 v3.6 M191.00 328.26 l2.6 2.6 M191.00 330.86 l2.6 -2.6 M191.49 327.02 h3.8 M193.39 325.22 v3.6 M192.09 325.72 l2.6 2.6 M192.09 328.32 l2.6 -2.6 M192.57 338.24 h3.8 M194.47 336.44 v3.6 M193.17 336.94 l2.6 2.6 M193.17 339.54 l2.6 -2.6 M193.65 339.23 h3.8 M195.55 337.43 v3.6 M194.25 337.93 l2.6 2.6 M194.25 340.53 l2.6 -2.6 M194.73 319.40 h3.8 M196.63 317.60 v3.6 M195.33 318.10 l2.6 2.6 M195.33 320.70 l2.6 -2.6 M195.81 327.62 h3.8 M197.71 325.82 v3.6 M196.41 326.32 l2.6 2.6 M196.41 328.92 l2.6 -2.6 M196.90 336.75 h3.8 M198.80 334.95 v3.6 M197.50 335.45 l2.6 2.6 M197.50 338.05 l2.6 -2.6 M197.98 338.06 h3.8 M199.88 336.26 v3.6 M198.58 336.76 l2.6 2.6 M198.58 339.36 l2.6 -2.6 M199.06 342.24 h3.8 M200.96 340.44 v3.6 M199.66 340.94 l2.6 2.6 M199.66 343.54 l2.6 -2.6 M200.14 334.16 h3.8 M202.04 332.36 v3.6 M200.74 332.86 l2.6 2.6 M200.74 335.46 l2.6 -2.6 M201.22 337.78 h3.8 M203.12 335.98 v3.6 M201.82 336.48 l2.6 2.6 M201.82 339.08 l2.6 -2.6 M202.31 336.33 h3.8 M204.21 334.53 v3.6 M202.91 335.03 l2.6 2.6 M202.91 337.63 l2.6 -2.6 M203.39 348.16 h3.8 M205.29 346.36 v3.6 M203.99 346.86 l2.6 2.6 M203.99 349.46 l2.6 -2.6 M204.47 345.94 h3.8 M206.37 344.14 v3.6 M205.07 344.64 l2.6 2.6 M205.07 347.24 l2.6 -2.6 M205.55 326.01 h3.8 M207.45 324.21 v3.6 M206.15 324.71 l2.6 2.6 M206.15 327.31 l2.6 -2.6 M206.63 325.94 h3.8 M208.53 324.14 v3.6 M207.23 324.64 l2.6 2.6 M207.23 327.24 l2.6 -2.6 M207.72 338.08 h3.8 M209.62 336.28 v3.6 M208.32 336.78 l2.6 2.6 M208.32 339.38 l2.6 -2.6 M208.80 341.65 h3.8 M210.70 339.85 v3.6 M209.40 340.35 l2.6 2.6 M209.40 342.95 l2.6 -2.6 M209.88 344.51 h3.8 M211.78 342.71 v3.6 M210.48 343.21 l2.6 2.6 M210.48 345.81 l2.6 -2.6 M210.96 351.44 h3.8 M212.86 349.64 v3.6 M211.56 350.14 l2.6 2.6 M211.56 352.74 l2.6 -2.6 M212.04 344.66 h3.8 M213.94 342.86 v3.6 M212.64 343.36 l2.6 2.6 M212.64 345.96 l2.6 -2.6 M213.13 335.96 h3.8 M215.03 334.16 v3.6 M213.73 334.66 l2.6 2.6 M213.73 337.26 l2.6 -2.6 M214.21 330.55 h3.8 M216.11 328.75 v3.6 M214.81 329.25 l2.6 2.6 M214.81 331.85 l2.6 -2.6 M215.29 329.08 h3.8 M217.19 327.28 v3.6 M215.89 327.78 l2.6 2.6 M215.89 330.38 l2.6 -2.6 M216.37 325.32 h3.8 M218.27 323.52 v3.6 M216.97 324.02 l2.6 2.6 M216.97 326.62 l2.6 -2.6 M217.45 331.89 h3.8 M219.35 330.09 v3.6 M218.05 330.59 l2.6 2.6 M218.05 333.19 l2.6 -2.6 M218.54 334.56 h3.8 M220.44 332.76 v3.6 M219.14 333.26 l2.6 2.6 M219.14 335.86 l2.6 -2.6 M219.62 323.85 h3.8 M221.52 322.05 v3.6 M220.22 322.55 l2.6 2.6 M220.22 325.15 l2.6 -2.6 M220.70 327.48 h3.8 M222.60 325.68 v3.6 M221.30 326.18 l2.6 2.6 M221.30 328.78 l2.6 -2.6 M221.78 337.80 h3.8 M223.68 336.00 v3.6 M222.38 336.50 l2.6 2.6 M222.38 339.10 l2.6 -2.6 M222.86 335.76 h3.8 M224.76 333.96 v3.6 M223.46 334.46 l2.6 2.6 M223.46 337.06 l2.6 -2.6 M223.95 331.15 h3.8 M225.85 329.35 v3.6 M224.55 329.85 l2.6 2.6 M224.55 332.45 l2.6 -2.6 M225.03 334.37 h3.8 M226.93 332.57 v3.6 M225.63 333.07 l2.6 2.6 M225.63 335.67 l2.6 -2.6 M226.11 334.53 h3.8 M228.01 332.73 v3.6 M226.71 333.23 l2.6 2.6 M226.71 335.83 l2.6 -2.6 M227.19 335.32 h3.8 M229.09 333.52 v3.6 M227.79 334.02 l2.6 2.6 M227.79 336.62 l2.6 -2.6 M228.27 331.48 h3.8 M230.17 329.68 v3.6 M228.87 330.18 l2.6 2.6 M228.87 332.78 l2.6 -2.6 M229.36 337.48 h3.8 M231.26 335.68 v3.6 M229.96 336.18 l2.6 2.6 M229.96 338.78 l2.6 -2.6 M230.44 340.22 h3.8 M232.34 338.42 v3.6 M231.04 338.92 l2.6 2.6 M231.04 341.52 l2.6 -2.6 M231.52 330.03 h3.8 M233.42 328.23 v3.6 M232.12 328.73 l2.6 2.6 M232.12 331.33 l2.6 -2.6 M232.60 331.08 h3.8 M234.50 329.28 v3.6 M233.20 329.78 l2.6 2.6 M233.20 332.38 l2.6 -2.6 M233.68 334.23 h3.8 M235.58 332.43 v3.6 M234.28 332.93 l2.6 2.6 M234.28 335.53 l2.6 -2.6 M234.77 334.30 h3.8 M236.67 332.50 v3.6 M235.37 333.00 l2.6 2.6 M235.37 335.60 l2.6 -2.6 M235.85 329.69 h3.8 M237.75 327.89 v3.6 M236.45 328.39 l2.6 2.6 M236.45 330.99 l2.6 -2.6 M236.93 331.17 h3.8 M238.83 329.37 v3.6 M237.53 329.87 l2.6 2.6 M237.53 332.47 l2.6 -2.6 M238.01 333.25 h3.8 M239.91 331.45 v3.6 M238.61 331.95 l2.6 2.6 M238.61 334.55 l2.6 -2.6 M239.09 333.00 h3.8 M240.99 331.20 v3.6 M239.69 331.70 l2.6 2.6 M239.69 334.30 l2.6 -2.6 M240.18 334.77 h3.8 M242.08 332.97 v3.6 M240.78 333.47 l2.6 2.6 M240.78 336.07 l2.6 -2.6 M241.26 335.45 h3.8 M243.16 333.65 v3.6 M241.86 334.15 l2.6 2.6 M241.86 336.75 l2.6 -2.6 M242.34 336.84 h3.8 M244.24 335.04 v3.6 M242.94 335.54 l2.6 2.6 M242.94 338.14 l2.6 -2.6 M243.42 336.42 h3.8 M245.32 334.62 v3.6 M244.02 335.12 l2.6 2.6 M244.02 337.72 l2.6 -2.6 M244.50 337.30 h3.8 M246.40 335.50 v3.6 M245.10 336.00 l2.6 2.6 M245.10 338.60 l2.6 -2.6 M245.59 337.28 h3.8 M247.49 335.48 v3.6 M246.19 335.98 l2.6 2.6 M246.19 338.58 l2.6 -2.6 M246.67 337.67 h3.8 M248.57 335.87 v3.6 M247.27 336.37 l2.6 2.6 M247.27 338.97 l2.6 -2.6 M247.75 337.86 h3.8 M249.65 336.06 v3.6 M248.35 336.56 l2.6 2.6 M248.35 339.16 l2.6 -2.6 M248.83 340.37 h3.8 M250.73 338.57 v3.6 M249.43 339.07 l2.6 2.6 M249.43 341.67 l2.6 -2.6" stroke="#e01c1c" stroke-width="1.0"/>
</g>
<rect x="60.3" y="285.3" width="216.39999999999998" height="106.19999999999999" fill="none" stroke="#000" stroke-width="1.1"/>
<path d="M60.30 391.5 v-3 M60.30 285.3 v3 M114.40 391.5 v-3 M114.40 285.3 v3 M168.50 391.5 v-3 M168.50 285.3 v3 M222.60 391.5 v-3 M222.60 285.3 v3 M276.70 391.5 v-3 M276.70 285.3 v3 M60.3 285.30 h3 M276.7 285.30 h-3 M60.3 300.47 h3 M276.7 300.47 h-3 M60.3 315.64 h3 M276.7 315.64 h-3 M60.3 330.81 h3 M276.7 330.81 h-3 M60.3 345.99 h3 M276.7 345.99 h-3 M60.3 361.16 h3 M276.7 361.16 h-3 M60.3 376.33 h3 M276.7 376.33 h-3 M60.3 391.50 h3 M276.7 391.50 h-3" stroke="#000" stroke-width="0.8"/>
<text transform="translate(57.50,288.10) scale(1.48,1)" text-anchor="end" font-family='"Liberation Sans", sans-serif' font-size="6.0" font-weight="normal" fill="#222" stroke="#222" stroke-width="0.22">0.04</text>
<text transform="translate(57.50,303.27) scale(1.48,1)" text-anchor="end" font-family='"Liberation Sans", sans-serif' font-size="6.0" font-weight="normal" fill="#222" stroke="#222" stroke-width="0.22">0.03</text>
<text transform="translate(57.50,318.44) scale(1.48,1)" text-anchor="end" font-family='"Liberation Sans", sans-serif' font-size="6.0" font-weight="normal" fill="#222" stroke="#222" stroke-width="0.22">0.02</text>
<text transform="translate(57.50,333.61) scale(1.48,1)" text-anchor="end" font-family='"Liberation Sans", sans-serif' font-size="6.0" font-weight="normal" fill="#222" stroke="#222" stroke-width="0.22">0.01</text>
<text transform="translate(57.50,348.79) scale(1.48,1)" text-anchor="end" font-family='"Liberation Sans", sans-serif' font-size="6.0" font-weight="normal" fill="#222" stroke="#222" stroke-width="0.22">0</text>
<text transform="translate(57.50,363.96) scale(1.48,1)" text-anchor="end" font-family='"Liberation Sans", sans-serif' font-size="6.0" font-weight="normal" fill="#222" stroke="#222" stroke-width="0.22">-0.01</text>
<text transform="translate(57.50,379.13) scale(1.48,1)" text-anchor="end" font-family='"Liberation Sans", sans-serif' font-size="6.0" font-weight="normal" fill="#222" stroke="#222" stroke-width="0.22">-0.02</text>
<text transform="translate(57.50,394.30) scale(1.48,1)" text-anchor="end" font-family='"Liberation Sans", sans-serif' font-size="6.0" font-weight="normal" fill="#222" stroke="#222" stroke-width="0.22">-0.03</text>
<text transform="translate(60.30,398.40) scale(1.48,1)" text-anchor="middle" font-family='"Liberation Sans", sans-serif' font-size="6.0" font-weight="normal" fill="#222" stroke="#222" stroke-width="0.22">0</text>
<text transform="translate(114.40,398.40) scale(1.48,1)" text-anchor="middle" font-family='"Liberation Sans", sans-serif' font-size="6.0" font-weight="normal" fill="#222" stroke="#222" stroke-width="0.22">50</text>
<text transform="translate(168.50,398.40) scale(1.48,1)" text-anchor="middle" font-family='"Liberation Sans", sans-serif' font-size="6.0" font-weight="normal" fill="#222" stroke="#222" stroke-width="0.22">100</text>
<text transform="translate(222.60,398.40) scale(1.48,1)" text-anchor="middle" font-family='"Liberation Sans", sans-serif' font-size="6.0" font-weight="normal" fill="#222" stroke="#222" stroke-width="0.22">150</text>
<text transform="translate(276.70,398.40) scale(1.48,1)" text-anchor="middle" font-family='"Liberation Sans", sans-serif' font-size="6.0" font-weight="normal" fill="#222" stroke="#222" stroke-width="0.22">200</text>
<text transform="translate(167.50,406.70) scale(1.48,1)" text-anchor="middle" font-family='"Liberation Sans", sans-serif' font-size="6.0" font-weight="normal" fill="#222" stroke="#222" stroke-width="0.22">time t</text>
<text x="168.50" y="281.80" text-anchor="middle" textLength="101.5" lengthAdjust="spacingAndGlyphs" font-family='"Liberation Sans", sans-serif' font-size="6.0" font-weight="normal" fill="#222">incr.GNP(USA): AR(3) fit</text>
<text transform="translate(30.00,339.20) rotate(-90) scale(1.1,1.6280000000000001)" text-anchor="middle" font-family='"Liberation Sans", sans-serif' font-size="6.0" font-weight="normal" fill="#222">x(t)</text>
<clipPath id="c4"><rect x="339.4" y="286.7" width="135.40000000000003" height="106.30000000000001"/></clipPath>
<g clip-path="url(#c4)">
<polyline points="336.01,329.22 339.40,315.55 342.78,318.59 346.17,332.26 349.56,318.59 352.94,312.52 356.32,342.89 359.71,348.96 363.09,333.78 366.48,355.04 369.87,341.37 373.25,367.18 376.63,361.11 380.02,376.30 383.40,332.26 386.79,321.63 390.18,327.70 393.56,318.59 396.94,339.85 400.33,341.37 403.72,332.26 407.10,327.70 410.49,324.66 413.87,317.07 417.25,352.00 420.64,333.78 424.02,300.37 427.41,333.78 430.80,329.22 434.18,348.96 437.56,348.96 440.95,333.78 444.34,352.00 447.72,332.26 451.11,383.89 454.49,342.89 457.88,327.70 461.26,318.59 464.64,352.00 468.03,341.37 471.42,368.70 474.80,370.22 478.19,361.11" fill="none" stroke="#1414b4" stroke-width="0.9" stroke-linejoin="round"/>
<circle cx="336.01" cy="329.22" r="1.0" fill="#1414b4"/>
<circle cx="339.40" cy="315.55" r="1.0" fill="#1414b4"/>
<circle cx="342.78" cy="318.59" r="1.0" fill="#1414b4"/>
<circle cx="346.17" cy="332.26" r="1.0" fill="#1414b4"/>
<circle cx="349.56" cy="318.59" r="1.0" fill="#1414b4"/>
<circle cx="352.94" cy="312.52" r="1.0" fill="#1414b4"/>
<circle cx="356.32" cy="342.89" r="1.0" fill="#1414b4"/>
<circle cx="359.71" cy="348.96" r="1.0" fill="#1414b4"/>
<circle cx="363.09" cy="333.78" r="1.0" fill="#1414b4"/>
<circle cx="366.48" cy="355.04" r="1.0" fill="#1414b4"/>
<circle cx="369.87" cy="341.37" r="1.0" fill="#1414b4"/>
<circle cx="373.25" cy="367.18" r="1.0" fill="#1414b4"/>
<circle cx="376.63" cy="361.11" r="1.0" fill="#1414b4"/>
<circle cx="380.02" cy="376.30" r="1.0" fill="#1414b4"/>
<circle cx="383.40" cy="332.26" r="1.0" fill="#1414b4"/>
<circle cx="386.79" cy="321.63" r="1.0" fill="#1414b4"/>
<circle cx="390.18" cy="327.70" r="1.0" fill="#1414b4"/>
<circle cx="393.56" cy="318.59" r="1.0" fill="#1414b4"/>
<circle cx="396.94" cy="339.85" r="1.0" fill="#1414b4"/>
<circle cx="400.33" cy="341.37" r="1.0" fill="#1414b4"/>
<circle cx="403.72" cy="332.26" r="1.0" fill="#1414b4"/>
<circle cx="407.10" cy="327.70" r="1.0" fill="#1414b4"/>
<circle cx="410.49" cy="324.66" r="1.0" fill="#1414b4"/>
<circle cx="413.87" cy="317.07" r="1.0" fill="#1414b4"/>
<circle cx="417.25" cy="352.00" r="1.0" fill="#1414b4"/>
<circle cx="420.64" cy="333.78" r="1.0" fill="#1414b4"/>
<circle cx="424.02" cy="300.37" r="1.0" fill="#1414b4"/>
<circle cx="427.41" cy="333.78" r="1.0" fill="#1414b4"/>
<circle cx="430.80" cy="329.22" r="1.0" fill="#1414b4"/>
<circle cx="434.18" cy="348.96" r="1.0" fill="#1414b4"/>
<circle cx="437.56" cy="348.96" r="1.0" fill="#1414b4"/>
<circle cx="440.95" cy="333.78" r="1.0" fill="#1414b4"/>
<circle cx="444.34" cy="352.00" r="1.0" fill="#1414b4"/>
<circle cx="447.72" cy="332.26" r="1.0" fill="#1414b4"/>
<circle cx="451.11" cy="383.89" r="1.0" fill="#1414b4"/>
<circle cx="454.49" cy="342.89" r="1.0" fill="#1414b4"/>
<circle cx="457.88" cy="327.70" r="1.0" fill="#1414b4"/>
<circle cx="461.26" cy="318.59" r="1.0" fill="#1414b4"/>
<circle cx="464.64" cy="352.00" r="1.0" fill="#1414b4"/>
<circle cx="468.03" cy="341.37" r="1.0" fill="#1414b4"/>
<circle cx="471.42" cy="368.70" r="1.0" fill="#1414b4"/>
<circle cx="474.80" cy="370.22" r="1.0" fill="#1414b4"/>
<circle cx="478.19" cy="361.11" r="1.0" fill="#1414b4"/>
<polyline points="336.01,344.01 339.40,335.47 342.78,325.95 346.17,327.14 349.56,334.38 352.94,331.64 356.32,325.14 359.71,336.57 363.09,344.98 366.48,336.47 369.87,340.29 373.25,341.49 376.63,345.01 380.02,349.46 383.40,349.99 386.79,338.24 390.18,324.51 393.56,330.97 396.94,330.40 400.33,335.30 403.72,340.93 407.10,335.01 410.49,331.58 413.87,331.00 417.25,328.46 420.64,339.69 424.02,340.68 427.41,320.83 430.80,329.06 434.18,338.20 437.56,339.51 440.95,343.69 444.34,335.61 447.72,339.23 451.11,337.78 454.49,349.62 457.88,347.40 461.26,327.44 464.64,327.38 468.03,339.53 471.42,343.10 474.80,345.97 478.19,352.90" fill="none" stroke="#d02828" stroke-width="0.9" stroke-linejoin="round"/>
<circle cx="336.01" cy="344.01" r="0.85" fill="#d02828"/>
<circle cx="339.40" cy="335.47" r="0.85" fill="#d02828"/>
<circle cx="342.78" cy="325.95" r="0.85" fill="#d02828"/>
<circle cx="346.17" cy="327.14" r="0.85" fill="#d02828"/>
<circle cx="349.56" cy="334.38" r="0.85" fill="#d02828"/>
<circle cx="352.94" cy="331.64" r="0.85" fill="#d02828"/>
<circle cx="356.32" cy="325.14" r="0.85" fill="#d02828"/>
<circle cx="359.71" cy="336.57" r="0.85" fill="#d02828"/>
<circle cx="363.09" cy="344.98" r="0.85" fill="#d02828"/>
<circle cx="366.48" cy="336.47" r="0.85" fill="#d02828"/>
<circle cx="369.87" cy="340.29" r="0.85" fill="#d02828"/>
<circle cx="373.25" cy="341.49" r="0.85" fill="#d02828"/>
<circle cx="376.63" cy="345.01" r="0.85" fill="#d02828"/>
<circle cx="380.02" cy="349.46" r="0.85" fill="#d02828"/>
<circle cx="383.40" cy="349.99" r="0.85" fill="#d02828"/>
<circle cx="386.79" cy="338.24" r="0.85" fill="#d02828"/>
<circle cx="390.18" cy="324.51" r="0.85" fill="#d02828"/>
<circle cx="393.56" cy="330.97" r="0.85" fill="#d02828"/>
<circle cx="396.94" cy="330.40" r="0.85" fill="#d02828"/>
<circle cx="400.33" cy="335.30" r="0.85" fill="#d02828"/>
<circle cx="403.72" cy="340.93" r="0.85" fill="#d02828"/>
<circle cx="407.10" cy="335.01" r="0.85" fill="#d02828"/>
<circle cx="410.49" cy="331.58" r="0.85" fill="#d02828"/>
<circle cx="413.87" cy="331.00" r="0.85" fill="#d02828"/>
<circle cx="417.25" cy="328.46" r="0.85" fill="#d02828"/>
<circle cx="420.64" cy="339.69" r="0.85" fill="#d02828"/>
<circle cx="424.02" cy="340.68" r="0.85" fill="#d02828"/>
<circle cx="427.41" cy="320.83" r="0.85" fill="#d02828"/>
<circle cx="430.80" cy="329.06" r="0.85" fill="#d02828"/>
<circle cx="434.18" cy="338.20" r="0.85" fill="#d02828"/>
<circle cx="437.56" cy="339.51" r="0.85" fill="#d02828"/>
<circle cx="440.95" cy="343.69" r="0.85" fill="#d02828"/>
<circle cx="444.34" cy="335.61" r="0.85" fill="#d02828"/>
<circle cx="447.72" cy="339.23" r="0.85" fill="#d02828"/>
<circle cx="451.11" cy="337.78" r="0.85" fill="#d02828"/>
<circle cx="454.49" cy="349.62" r="0.85" fill="#d02828"/>
<circle cx="457.88" cy="347.40" r="0.85" fill="#d02828"/>
<circle cx="461.26" cy="327.44" r="0.85" fill="#d02828"/>
<circle cx="464.64" cy="327.38" r="0.85" fill="#d02828"/>
<circle cx="468.03" cy="339.53" r="0.85" fill="#d02828"/>
<circle cx="471.42" cy="343.10" r="0.85" fill="#d02828"/>
<circle cx="474.80" cy="345.97" r="0.85" fill="#d02828"/>
<circle cx="478.19" cy="352.90" r="0.85" fill="#d02828"/>
</g>
<rect x="339.4" y="286.7" width="135.40000000000003" height="106.30000000000001" fill="none" stroke="#000" stroke-width="1.1"/>
<path d="M339.40 393.0 v-2 M339.40 286.7 v2 M373.25 393.0 v-2 M373.25 286.7 v2 M407.10 393.0 v-2 M407.10 286.7 v2 M440.95 393.0 v-2 M440.95 286.7 v2 M474.80 393.0 v-2 M474.80 286.7 v2 M339.4 286.70 h2 M474.8 286.70 h-2 M339.4 301.89 h2 M474.8 301.89 h-2 M339.4 317.07 h2 M474.8 317.07 h-2 M339.4 332.26 h2 M474.8 332.26 h-2 M339.4 347.44 h2 M474.8 347.44 h-2 M339.4 362.63 h2 M474.8 362.63 h-2 M339.4 377.81 h2 M474.8 377.81 h-2 M339.4 393.00 h2 M474.8 393.00 h-2" stroke="#000" stroke-width="0.8"/>
<text transform="translate(337.50,288.90) scale(0.93,1)" text-anchor="end" font-family='"Liberation Sans", sans-serif' font-size="6.0" font-weight="normal" fill="#2a2a2a" stroke="#2a2a2a" stroke-width="0">0.04</text>
<text transform="translate(337.50,304.09) scale(0.93,1)" text-anchor="end" font-family='"Liberation Sans", sans-serif' font-size="6.0" font-weight="normal" fill="#2a2a2a" stroke="#2a2a2a" stroke-width="0">0.03</text>
<text transform="translate(337.50,319.27) scale(0.93,1)" text-anchor="end" font-family='"Liberation Sans", sans-serif' font-size="6.0" font-weight="normal" fill="#2a2a2a" stroke="#2a2a2a" stroke-width="0">0.02</text>
<text transform="translate(337.50,334.46) scale(0.93,1)" text-anchor="end" font-family='"Liberation Sans", sans-serif' font-size="6.0" font-weight="normal" fill="#2a2a2a" stroke="#2a2a2a" stroke-width="0">0.01</text>
<text transform="translate(337.50,349.64) scale(0.93,1)" text-anchor="end" font-family='"Liberation Sans", sans-serif' font-size="6.0" font-weight="normal" fill="#2a2a2a" stroke="#2a2a2a" stroke-width="0">0</text>
<text transform="translate(337.50,364.83) scale(0.93,1)" text-anchor="end" font-family='"Liberation Sans", sans-serif' font-size="6.0" font-weight="normal" fill="#2a2a2a" stroke="#2a2a2a" stroke-width="0">-0.01</text>
<text transform="translate(337.50,380.01) scale(0.93,1)" text-anchor="end" font-family='"Liberation Sans", sans-serif' font-size="6.0" font-weight="normal" fill="#2a2a2a" stroke="#2a2a2a" stroke-width="0">-0.02</text>
<text transform="translate(337.50,395.20) scale(0.93,1)" text-anchor="end" font-family='"Liberation Sans", sans-serif' font-size="6.0" font-weight="normal" fill="#2a2a2a" stroke="#2a2a2a" stroke-width="0">-0.03</text>
<text transform="translate(339.40,400.20) scale(1.0,1)" text-anchor="middle" font-family='"Liberation Sans", sans-serif' font-size="6.0" font-weight="normal" fill="#2a2a2a" stroke="#2a2a2a" stroke-width="0">100</text>
<text transform="translate(373.25,400.20) scale(1.0,1)" text-anchor="middle" font-family='"Liberation Sans", sans-serif' font-size="6.0" font-weight="normal" fill="#2a2a2a" stroke="#2a2a2a" stroke-width="0">110</text>
<text transform="translate(407.10,400.20) scale(1.0,1)" text-anchor="middle" font-family='"Liberation Sans", sans-serif' font-size="6.0" font-weight="normal" fill="#2a2a2a" stroke="#2a2a2a" stroke-width="0">120</text>
<text transform="translate(440.95,400.20) scale(1.0,1)" text-anchor="middle" font-family='"Liberation Sans", sans-serif' font-size="6.0" font-weight="normal" fill="#2a2a2a" stroke="#2a2a2a" stroke-width="0">130</text>
<text transform="translate(474.80,400.20) scale(1.0,1)" text-anchor="middle" font-family='"Liberation Sans", sans-serif' font-size="6.0" font-weight="normal" fill="#2a2a2a" stroke="#2a2a2a" stroke-width="0">140</text>
<text transform="translate(406.10,408.00) scale(1.0,1)" text-anchor="middle" font-family='"Liberation Sans", sans-serif' font-size="6.0" font-weight="normal" fill="#2a2a2a" stroke="#2a2a2a" stroke-width="0">time t</text>
<text x="407.10" y="283.20" text-anchor="middle" textLength="63.5" lengthAdjust="spacingAndGlyphs" font-family='"Liberation Sans", sans-serif' font-size="6.0" font-weight="normal" fill="#2a2a2a">incr.GNP(USA): AR(3) fit</text>
<text transform="translate(320.80,340.65) rotate(-90) scale(1.05,0.92)" text-anchor="middle" font-family='"Liberation Sans", sans-serif' font-size="6.0" font-weight="normal" fill="#2a2a2a">x(t)</text>
<text x="513" y="185.7" font-family='"Liberation Sans", sans-serif' font-size="16"  font-weight="normal" fill="#111" >fit with</text>
<text x="512.5" y="204.5" font-family='"Liberation Sans", sans-serif' font-size="16"  font-weight="normal" fill="#111" >MA(2)</text>
<text x="518.3" y="330" font-family='"Liberation Sans", sans-serif' font-size="16"  font-weight="normal" fill="#111" >fit with</text>
<text x="518" y="349.5" font-family='"Liberation Sans", sans-serif' font-size="16"  font-weight="normal" fill="#111" >AR(3)</text>
<text x="33.2" y="433.7" font-family='"Liberation Sans", sans-serif' font-size="16"  font-weight="bold" fill="#cc1a22" textLength="284" lengthAdjust="spacingAndGlyphs">Diagnostic check for model adequacy</text>
<text x="33.5" y="457.4" font-family='"Liberation Sans", sans-serif' font-size="16"  font-weight="normal" fill="#111" textLength="281.5" lengthAdjust="spacingAndGlyphs">Is the residual time series independent?</text>
<path d="M324.7 451 H335.6 M330.5 445.4 L336.2 451 L330.5 456.4" fill="none" stroke="#111" stroke-width="1.6"/>
<text x="352.2" y="456.8" font-family='"Liberation Sans", sans-serif' font-size="16"  font-weight="normal" fill="#111" >test for independence on</text>
<path d="M539.6 443.2 C537.9 443.6 537.9 445 537.9 447 V450.2 C537.9 451.6 537.3 452.4 535.9 452.7 C537.3 453 537.9 453.8 537.9 455.2 V461 C537.9 463 537.9 464.3 539.6 464.7" fill="none" stroke="#111" stroke-width="1.15"/>
<path d="M559.4 443.2 C561.1 443.6 561.1 445 561.1 447 V450.2 C561.1 451.6 561.7 452.4 563.1 452.7 C561.7 453 561.1 453.8 561.1 455.2 V461 C561.1 463 561.1 464.3 559.4 464.7" fill="none" stroke="#111" stroke-width="1.15"/>
<text x="545.2" y="457" font-family='"Liberation Serif", serif' font-size="19" font-style="italic" font-weight="normal" fill="#111" stroke="#111" stroke-width="0.12">z</text>
<path d="M546.8 447.2 L549.4 444.3 L552 447.2" fill="none" stroke="#111" stroke-width="0.8"/>
<text x="552.3" y="461.3" font-family='"Liberation Serif", serif' font-size="10.5" font-style="italic" font-weight="normal" fill="#111" stroke="#111" stroke-width="0.12">t</text>
<text x="566.5" y="444.9" font-family='"Liberation Serif", serif' font-size="10.5" font-style="italic" font-weight="normal" fill="#111" stroke="#111" stroke-width="0.12">n</text>
<text x="564.9" y="464.6" font-family='"Liberation Serif", serif' font-size="10.5" font-style="italic" font-weight="normal" fill="#111" stroke="#111" stroke-width="0.12">t</text>
<path d="M569.5 460.6 H574 M569.5 463 H574" stroke="#111" stroke-width="0.7"/>
<text x="574.6" y="464.6" font-family='"Liberation Serif", serif' font-size="10.5" font-style="italic" font-weight="normal" fill="#111" stroke="#111" stroke-width="0.12">p</text>
<text x="580.6" y="464.6" font-family='"Liberation Serif", serif' font-size="10.5"  font-weight="normal" fill="#111" stroke="#111" stroke-width="0.12">+</text>
<text x="591.5" y="464.6" font-family='"Liberation Serif", serif' font-size="10.5"  font-weight="normal" fill="#111" stroke="#111" stroke-width="0.12">1</text>
</svg></body></html>
